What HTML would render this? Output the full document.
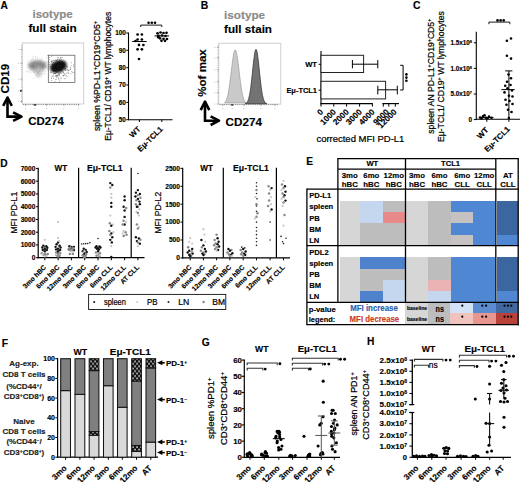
<!DOCTYPE html>
<html><head><meta charset="utf-8"><style>
html,body{margin:0;padding:0;background:#fff;}
svg{display:block;font-family:"Liberation Sans", sans-serif;}
</style></head><body>
<svg width="520" height="482" viewBox="0 0 520 482">
<rect width="520" height="482" fill="#fff"/>
<text x="0.6" y="8.6" font-size="10.2" font-weight="bold" text-anchor="start" fill="#000" stroke="#000" stroke-width="0.15">A</text>
<text x="52.6" y="18.2" font-size="11.2" font-weight="bold" text-anchor="middle" fill="#8a8a8a" textLength="40.2" lengthAdjust="spacingAndGlyphs" stroke="#8a8a8a" stroke-width="0.15">isotype</text>
<text x="52.6" y="32.4" font-size="11.2" font-weight="bold" text-anchor="middle" fill="#000" textLength="48.4" lengthAdjust="spacingAndGlyphs" stroke="#000" stroke-width="0.15">full stain</text>
<rect x="22.3" y="43.0" width="61.4" height="61.0" fill="#fff" stroke="#c4c4c4" stroke-width="0.8"/>
<line x1="20.3" y1="49.4" x2="22.3" y2="49.4" stroke="#777" stroke-width="0.6"/>
<circle cx="18.60" cy="49.40" r="0.45" fill="#999"/>
<line x1="20.3" y1="63.2" x2="22.3" y2="63.2" stroke="#777" stroke-width="0.6"/>
<circle cx="18.60" cy="63.20" r="0.45" fill="#999"/>
<line x1="20.3" y1="79.2" x2="22.3" y2="79.2" stroke="#777" stroke-width="0.6"/>
<circle cx="18.60" cy="79.20" r="0.45" fill="#999"/>
<line x1="20.3" y1="90.8" x2="22.3" y2="90.8" stroke="#777" stroke-width="0.6"/>
<circle cx="18.60" cy="90.80" r="0.45" fill="#999"/>
<line x1="20.3" y1="101.5" x2="22.3" y2="101.5" stroke="#777" stroke-width="0.6"/>
<circle cx="18.60" cy="101.50" r="0.45" fill="#999"/>
<line x1="25.5" y1="104.0" x2="25.5" y2="105.8" stroke="#777" stroke-width="0.6"/>
<circle cx="25.50" cy="108.60" r="0.5" fill="#aaa"/>
<line x1="35.0" y1="104.0" x2="35.0" y2="105.8" stroke="#777" stroke-width="0.6"/>
<circle cx="35.00" cy="108.60" r="0.5" fill="#aaa"/>
<line x1="46.5" y1="104.0" x2="46.5" y2="105.8" stroke="#777" stroke-width="0.6"/>
<circle cx="46.50" cy="108.60" r="0.5" fill="#aaa"/>
<line x1="63.9" y1="104.0" x2="63.9" y2="105.8" stroke="#777" stroke-width="0.6"/>
<circle cx="63.90" cy="108.60" r="0.5" fill="#aaa"/>
<line x1="78.5" y1="104.0" x2="78.5" y2="105.8" stroke="#777" stroke-width="0.6"/>
<circle cx="78.50" cy="108.60" r="0.5" fill="#aaa"/>
<rect x="20.2" y="89.8" width="1.4" height="2.2" fill="#222" stroke="none" stroke-width="1"/>
<line x1="23.0" y1="104.6" x2="80.0" y2="104.6" stroke="#777" stroke-width="0.8" stroke-dasharray="1.2,1"/>
<line x1="21.6" y1="45.0" x2="21.6" y2="103.0" stroke="#999" stroke-width="0.7" stroke-dasharray="1,1.2"/>
<rect x="33.6" y="104.2" width="2.6" height="1.3" fill="#222" stroke="none" stroke-width="1"/>
<defs><filter id="bl1" x="-50%" y="-50%" width="200%" height="200%"><feGaussianBlur stdDeviation="1.6"/></filter><filter id="bl2" x="-50%" y="-50%" width="200%" height="200%"><feGaussianBlur stdDeviation="0.9"/></filter><pattern id="chk" width="4" height="4.9" patternUnits="userSpaceOnUse"><rect width="4" height="4.9" fill="#111"/><rect x="0.3" y="0.4" width="1.5" height="1.6" fill="#e8e8e8"/><rect x="2.3" y="2.85" width="1.5" height="1.6" fill="#e8e8e8"/></pattern></defs>
<ellipse cx="37.4" cy="65.6" rx="9.3" ry="5.0" fill="#858585" filter="url(#bl1)"/>
<ellipse cx="38.6" cy="72.0" rx="3.6" ry="5.2" fill="#c4c4c4" filter="url(#bl1)"/>
<circle cx="38.47" cy="73.00" r="0.35" fill="#a0a0a0"/>
<circle cx="33.34" cy="71.76" r="0.35" fill="#a0a0a0"/>
<circle cx="36.70" cy="65.74" r="0.35" fill="#a0a0a0"/>
<circle cx="47.50" cy="67.76" r="0.35" fill="#a0a0a0"/>
<circle cx="37.79" cy="70.50" r="0.35" fill="#a0a0a0"/>
<circle cx="43.63" cy="66.85" r="0.35" fill="#a0a0a0"/>
<circle cx="40.94" cy="62.33" r="0.35" fill="#a0a0a0"/>
<circle cx="36.17" cy="64.90" r="0.35" fill="#a0a0a0"/>
<circle cx="31.34" cy="59.76" r="0.35" fill="#a0a0a0"/>
<circle cx="29.87" cy="65.85" r="0.35" fill="#a0a0a0"/>
<circle cx="37.14" cy="65.46" r="0.35" fill="#a0a0a0"/>
<circle cx="38.35" cy="60.59" r="0.35" fill="#a0a0a0"/>
<circle cx="37.60" cy="68.14" r="0.35" fill="#a0a0a0"/>
<circle cx="41.76" cy="62.94" r="0.35" fill="#a0a0a0"/>
<circle cx="36.00" cy="57.33" r="0.35" fill="#a0a0a0"/>
<circle cx="35.48" cy="56.46" r="0.35" fill="#a0a0a0"/>
<circle cx="30.90" cy="72.29" r="0.35" fill="#a0a0a0"/>
<circle cx="26.99" cy="70.83" r="0.35" fill="#a0a0a0"/>
<circle cx="39.64" cy="65.50" r="0.35" fill="#a0a0a0"/>
<circle cx="40.30" cy="69.53" r="0.35" fill="#a0a0a0"/>
<circle cx="43.23" cy="65.89" r="0.35" fill="#a0a0a0"/>
<circle cx="35.04" cy="64.10" r="0.35" fill="#a0a0a0"/>
<circle cx="33.07" cy="66.78" r="0.35" fill="#a0a0a0"/>
<circle cx="34.07" cy="72.13" r="0.35" fill="#a0a0a0"/>
<circle cx="28.65" cy="61.75" r="0.35" fill="#a0a0a0"/>
<circle cx="33.23" cy="56.95" r="0.35" fill="#a0a0a0"/>
<circle cx="47.51" cy="55.44" r="0.35" fill="#a0a0a0"/>
<circle cx="36.58" cy="64.48" r="0.35" fill="#a0a0a0"/>
<circle cx="46.28" cy="57.47" r="0.35" fill="#a0a0a0"/>
<circle cx="43.36" cy="63.49" r="0.35" fill="#a0a0a0"/>
<circle cx="37.22" cy="63.78" r="0.35" fill="#a0a0a0"/>
<circle cx="41.20" cy="61.54" r="0.35" fill="#a0a0a0"/>
<circle cx="37.61" cy="68.70" r="0.35" fill="#a0a0a0"/>
<circle cx="47.20" cy="55.45" r="0.35" fill="#a0a0a0"/>
<circle cx="45.63" cy="71.55" r="0.35" fill="#a0a0a0"/>
<circle cx="35.58" cy="68.46" r="0.35" fill="#a0a0a0"/>
<circle cx="35.67" cy="74.90" r="0.35" fill="#a0a0a0"/>
<circle cx="39.05" cy="65.97" r="0.35" fill="#a0a0a0"/>
<circle cx="36.86" cy="66.04" r="0.35" fill="#a0a0a0"/>
<circle cx="37.12" cy="62.78" r="0.35" fill="#a0a0a0"/>
<circle cx="37.27" cy="68.79" r="0.35" fill="#a0a0a0"/>
<circle cx="36.98" cy="66.29" r="0.35" fill="#a0a0a0"/>
<circle cx="39.66" cy="71.65" r="0.35" fill="#a0a0a0"/>
<circle cx="35.76" cy="65.21" r="0.35" fill="#a0a0a0"/>
<circle cx="47.70" cy="69.54" r="0.35" fill="#a0a0a0"/>
<circle cx="33.07" cy="78.15" r="0.35" fill="#a0a0a0"/>
<circle cx="41.88" cy="64.17" r="0.35" fill="#a0a0a0"/>
<circle cx="32.13" cy="68.43" r="0.35" fill="#a0a0a0"/>
<circle cx="33.84" cy="61.92" r="0.35" fill="#a0a0a0"/>
<circle cx="31.52" cy="64.57" r="0.35" fill="#a0a0a0"/>
<circle cx="43.54" cy="64.92" r="0.35" fill="#a0a0a0"/>
<circle cx="30.75" cy="70.21" r="0.35" fill="#a0a0a0"/>
<circle cx="38.33" cy="71.05" r="0.35" fill="#a0a0a0"/>
<circle cx="44.01" cy="66.19" r="0.35" fill="#a0a0a0"/>
<circle cx="37.28" cy="66.78" r="0.35" fill="#a0a0a0"/>
<circle cx="32.33" cy="70.21" r="0.35" fill="#a0a0a0"/>
<circle cx="44.86" cy="67.83" r="0.35" fill="#a0a0a0"/>
<circle cx="36.81" cy="65.75" r="0.35" fill="#a0a0a0"/>
<circle cx="34.10" cy="63.14" r="0.35" fill="#a0a0a0"/>
<circle cx="36.00" cy="62.96" r="0.35" fill="#a0a0a0"/>
<circle cx="35.81" cy="59.43" r="0.35" fill="#a0a0a0"/>
<circle cx="39.75" cy="67.24" r="0.35" fill="#a0a0a0"/>
<circle cx="32.24" cy="55.97" r="0.35" fill="#a0a0a0"/>
<circle cx="37.96" cy="72.30" r="0.35" fill="#a0a0a0"/>
<circle cx="34.33" cy="64.68" r="0.35" fill="#a0a0a0"/>
<circle cx="35.16" cy="70.14" r="0.35" fill="#a0a0a0"/>
<circle cx="33.42" cy="71.73" r="0.35" fill="#a0a0a0"/>
<circle cx="36.48" cy="71.44" r="0.35" fill="#a0a0a0"/>
<circle cx="38.16" cy="65.89" r="0.35" fill="#a0a0a0"/>
<circle cx="30.61" cy="63.70" r="0.35" fill="#a0a0a0"/>
<circle cx="36.69" cy="70.17" r="0.35" fill="#a0a0a0"/>
<circle cx="39.22" cy="63.66" r="0.35" fill="#a0a0a0"/>
<circle cx="40.05" cy="71.74" r="0.35" fill="#a0a0a0"/>
<circle cx="37.26" cy="64.89" r="0.35" fill="#a0a0a0"/>
<circle cx="36.03" cy="70.89" r="0.35" fill="#a0a0a0"/>
<circle cx="40.69" cy="62.54" r="0.35" fill="#a0a0a0"/>
<circle cx="39.87" cy="64.70" r="0.35" fill="#a0a0a0"/>
<circle cx="34.24" cy="72.95" r="0.35" fill="#a0a0a0"/>
<circle cx="42.11" cy="63.52" r="0.35" fill="#a0a0a0"/>
<circle cx="38.40" cy="69.41" r="0.35" fill="#a0a0a0"/>
<circle cx="34.80" cy="66.42" r="0.35" fill="#a0a0a0"/>
<circle cx="41.33" cy="58.41" r="0.35" fill="#a0a0a0"/>
<circle cx="39.64" cy="70.55" r="0.35" fill="#a0a0a0"/>
<circle cx="40.52" cy="60.56" r="0.35" fill="#a0a0a0"/>
<circle cx="39.59" cy="62.86" r="0.35" fill="#a0a0a0"/>
<circle cx="40.85" cy="69.90" r="0.35" fill="#a0a0a0"/>
<circle cx="39.08" cy="63.33" r="0.35" fill="#a0a0a0"/>
<circle cx="35.04" cy="71.10" r="0.35" fill="#a0a0a0"/>
<circle cx="33.51" cy="69.38" r="0.35" fill="#a0a0a0"/>
<circle cx="40.56" cy="65.66" r="0.35" fill="#a0a0a0"/>
<circle cx="26.78" cy="71.71" r="0.35" fill="#a0a0a0"/>
<circle cx="41.18" cy="65.50" r="0.35" fill="#a0a0a0"/>
<circle cx="37.73" cy="57.87" r="0.35" fill="#a0a0a0"/>
<circle cx="34.85" cy="62.04" r="0.35" fill="#a0a0a0"/>
<circle cx="36.89" cy="71.25" r="0.35" fill="#a0a0a0"/>
<circle cx="38.26" cy="68.78" r="0.35" fill="#a0a0a0"/>
<circle cx="34.51" cy="64.91" r="0.35" fill="#a0a0a0"/>
<circle cx="38.56" cy="65.65" r="0.35" fill="#a0a0a0"/>
<circle cx="44.32" cy="62.80" r="0.35" fill="#a0a0a0"/>
<circle cx="47.45" cy="62.29" r="0.35" fill="#a0a0a0"/>
<circle cx="43.30" cy="63.29" r="0.35" fill="#a0a0a0"/>
<circle cx="46.24" cy="67.65" r="0.35" fill="#a0a0a0"/>
<circle cx="39.99" cy="70.57" r="0.35" fill="#a0a0a0"/>
<circle cx="34.83" cy="62.00" r="0.35" fill="#a0a0a0"/>
<circle cx="27.87" cy="72.86" r="0.35" fill="#a0a0a0"/>
<circle cx="34.52" cy="64.16" r="0.35" fill="#a0a0a0"/>
<circle cx="37.85" cy="76.55" r="0.35" fill="#a0a0a0"/>
<circle cx="29.36" cy="68.20" r="0.35" fill="#a0a0a0"/>
<circle cx="36.02" cy="69.55" r="0.35" fill="#a0a0a0"/>
<circle cx="29.01" cy="65.09" r="0.35" fill="#a0a0a0"/>
<circle cx="42.20" cy="74.48" r="0.35" fill="#a0a0a0"/>
<circle cx="45.98" cy="62.90" r="0.35" fill="#a0a0a0"/>
<circle cx="38.27" cy="66.47" r="0.35" fill="#a0a0a0"/>
<circle cx="31.12" cy="60.09" r="0.35" fill="#a0a0a0"/>
<circle cx="41.78" cy="68.18" r="0.35" fill="#a0a0a0"/>
<circle cx="37.29" cy="72.84" r="0.35" fill="#a0a0a0"/>
<circle cx="32.99" cy="69.53" r="0.35" fill="#a0a0a0"/>
<circle cx="38.05" cy="66.72" r="0.35" fill="#a0a0a0"/>
<circle cx="40.45" cy="67.84" r="0.35" fill="#a0a0a0"/>
<circle cx="39.33" cy="68.27" r="0.35" fill="#a0a0a0"/>
<circle cx="47.69" cy="65.51" r="0.35" fill="#a0a0a0"/>
<circle cx="43.06" cy="69.92" r="0.35" fill="#a0a0a0"/>
<circle cx="36.25" cy="70.82" r="0.35" fill="#a0a0a0"/>
<circle cx="33.71" cy="72.57" r="0.35" fill="#a0a0a0"/>
<circle cx="33.95" cy="64.65" r="0.35" fill="#a0a0a0"/>
<circle cx="39.62" cy="71.00" r="0.35" fill="#a0a0a0"/>
<circle cx="42.54" cy="71.29" r="0.35" fill="#a0a0a0"/>
<circle cx="36.96" cy="62.41" r="0.35" fill="#a0a0a0"/>
<circle cx="40.75" cy="68.45" r="0.35" fill="#a0a0a0"/>
<circle cx="33.24" cy="71.67" r="0.35" fill="#a0a0a0"/>
<circle cx="39.00" cy="62.40" r="0.35" fill="#a0a0a0"/>
<circle cx="40.21" cy="60.64" r="0.35" fill="#a0a0a0"/>
<circle cx="33.61" cy="68.93" r="0.35" fill="#a0a0a0"/>
<circle cx="30.21" cy="67.18" r="0.35" fill="#a0a0a0"/>
<circle cx="31.24" cy="70.54" r="0.35" fill="#a0a0a0"/>
<circle cx="34.36" cy="67.88" r="0.35" fill="#a0a0a0"/>
<circle cx="30.49" cy="65.35" r="0.35" fill="#a0a0a0"/>
<circle cx="42.74" cy="69.19" r="0.35" fill="#a0a0a0"/>
<circle cx="28.81" cy="71.44" r="0.35" fill="#a0a0a0"/>
<circle cx="42.46" cy="65.19" r="0.35" fill="#a0a0a0"/>
<circle cx="45.09" cy="61.92" r="0.35" fill="#a0a0a0"/>
<circle cx="37.57" cy="72.35" r="0.35" fill="#a0a0a0"/>
<circle cx="44.55" cy="73.14" r="0.35" fill="#a0a0a0"/>
<circle cx="32.53" cy="58.45" r="0.35" fill="#a0a0a0"/>
<circle cx="39.96" cy="60.13" r="0.35" fill="#a0a0a0"/>
<circle cx="37.34" cy="60.85" r="0.35" fill="#a0a0a0"/>
<circle cx="43.31" cy="70.86" r="0.35" fill="#a0a0a0"/>
<circle cx="40.78" cy="67.08" r="0.35" fill="#a0a0a0"/>
<circle cx="38.23" cy="65.57" r="0.35" fill="#a0a0a0"/>
<circle cx="39.92" cy="68.20" r="0.35" fill="#a0a0a0"/>
<circle cx="40.30" cy="64.94" r="0.35" fill="#a0a0a0"/>
<circle cx="47.49" cy="68.35" r="0.35" fill="#a0a0a0"/>
<circle cx="44.97" cy="73.39" r="0.35" fill="#a0a0a0"/>
<circle cx="33.60" cy="58.90" r="0.35" fill="#a0a0a0"/>
<circle cx="44.29" cy="65.14" r="0.35" fill="#a0a0a0"/>
<circle cx="38.41" cy="65.76" r="0.35" fill="#a0a0a0"/>
<ellipse cx="58.4" cy="66.4" rx="8.6" ry="5.9" transform="rotate(-22 58.4 66.4)" fill="#0d0d0d" filter="url(#bl2)"/>
<circle cx="51.43" cy="62.11" r="0.38" fill="#222"/>
<circle cx="65.11" cy="70.22" r="0.38" fill="#222"/>
<circle cx="66.64" cy="65.97" r="0.38" fill="#222"/>
<circle cx="60.89" cy="67.28" r="0.38" fill="#222"/>
<circle cx="54.07" cy="69.87" r="0.38" fill="#222"/>
<circle cx="50.96" cy="66.87" r="0.38" fill="#222"/>
<circle cx="62.68" cy="69.35" r="0.38" fill="#222"/>
<circle cx="58.85" cy="65.48" r="0.38" fill="#222"/>
<circle cx="59.46" cy="65.86" r="0.38" fill="#222"/>
<circle cx="56.19" cy="66.90" r="0.38" fill="#222"/>
<circle cx="70.65" cy="69.14" r="0.38" fill="#222"/>
<circle cx="59.55" cy="73.05" r="0.38" fill="#222"/>
<circle cx="70.60" cy="67.66" r="0.38" fill="#222"/>
<circle cx="49.74" cy="66.80" r="0.38" fill="#222"/>
<circle cx="62.47" cy="65.87" r="0.38" fill="#222"/>
<circle cx="56.18" cy="71.77" r="0.38" fill="#222"/>
<circle cx="59.84" cy="70.75" r="0.38" fill="#222"/>
<circle cx="55.91" cy="76.74" r="0.38" fill="#222"/>
<circle cx="67.53" cy="69.19" r="0.38" fill="#222"/>
<circle cx="55.79" cy="73.40" r="0.38" fill="#222"/>
<circle cx="61.37" cy="62.76" r="0.38" fill="#222"/>
<circle cx="55.74" cy="75.29" r="0.38" fill="#222"/>
<circle cx="57.92" cy="67.03" r="0.38" fill="#222"/>
<circle cx="59.77" cy="68.80" r="0.38" fill="#222"/>
<circle cx="58.49" cy="57.42" r="0.38" fill="#222"/>
<circle cx="69.00" cy="70.20" r="0.38" fill="#222"/>
<circle cx="53.24" cy="74.88" r="0.38" fill="#222"/>
<circle cx="60.35" cy="69.11" r="0.38" fill="#222"/>
<circle cx="61.82" cy="78.51" r="0.38" fill="#222"/>
<circle cx="71.44" cy="62.87" r="0.38" fill="#222"/>
<circle cx="55.36" cy="73.66" r="0.38" fill="#222"/>
<circle cx="66.26" cy="75.26" r="0.38" fill="#222"/>
<circle cx="61.98" cy="57.63" r="0.38" fill="#222"/>
<circle cx="72.61" cy="72.31" r="0.38" fill="#222"/>
<circle cx="63.10" cy="71.97" r="0.38" fill="#222"/>
<circle cx="51.20" cy="80.51" r="0.38" fill="#222"/>
<circle cx="53.51" cy="67.55" r="0.38" fill="#222"/>
<circle cx="56.97" cy="72.43" r="0.38" fill="#222"/>
<circle cx="61.50" cy="70.61" r="0.38" fill="#222"/>
<circle cx="59.50" cy="70.61" r="0.38" fill="#222"/>
<circle cx="65.88" cy="68.38" r="0.38" fill="#222"/>
<circle cx="54.83" cy="71.46" r="0.38" fill="#222"/>
<circle cx="49.17" cy="62.75" r="0.38" fill="#222"/>
<circle cx="52.46" cy="70.73" r="0.38" fill="#222"/>
<circle cx="71.05" cy="73.58" r="0.38" fill="#222"/>
<circle cx="65.35" cy="70.43" r="0.38" fill="#222"/>
<circle cx="60.17" cy="66.30" r="0.38" fill="#222"/>
<circle cx="51.28" cy="61.28" r="0.38" fill="#222"/>
<circle cx="63.52" cy="72.98" r="0.38" fill="#222"/>
<circle cx="65.35" cy="78.34" r="0.38" fill="#222"/>
<circle cx="56.67" cy="75.33" r="0.38" fill="#222"/>
<circle cx="70.23" cy="68.95" r="0.38" fill="#222"/>
<circle cx="65.02" cy="68.01" r="0.38" fill="#222"/>
<circle cx="53.57" cy="69.65" r="0.38" fill="#222"/>
<circle cx="55.72" cy="70.92" r="0.38" fill="#222"/>
<circle cx="66.66" cy="66.90" r="0.38" fill="#222"/>
<circle cx="53.05" cy="69.02" r="0.38" fill="#222"/>
<circle cx="62.55" cy="71.54" r="0.38" fill="#222"/>
<circle cx="60.91" cy="57.18" r="0.38" fill="#222"/>
<circle cx="51.72" cy="77.06" r="0.38" fill="#222"/>
<circle cx="59.94" cy="59.87" r="0.38" fill="#222"/>
<circle cx="53.29" cy="60.31" r="0.38" fill="#222"/>
<circle cx="52.37" cy="76.09" r="0.38" fill="#222"/>
<circle cx="57.17" cy="75.79" r="0.38" fill="#222"/>
<circle cx="59.64" cy="59.88" r="0.38" fill="#222"/>
<circle cx="53.84" cy="62.61" r="0.38" fill="#222"/>
<circle cx="66.03" cy="69.55" r="0.38" fill="#222"/>
<circle cx="58.46" cy="77.95" r="0.38" fill="#222"/>
<circle cx="52.06" cy="60.43" r="0.38" fill="#222"/>
<circle cx="53.52" cy="76.04" r="0.38" fill="#222"/>
<circle cx="57.64" cy="57.77" r="0.38" fill="#222"/>
<circle cx="51.71" cy="78.34" r="0.38" fill="#222"/>
<circle cx="64.77" cy="62.32" r="0.38" fill="#222"/>
<circle cx="73.36" cy="66.75" r="0.38" fill="#222"/>
<circle cx="51.18" cy="68.16" r="0.38" fill="#222"/>
<circle cx="64.24" cy="78.87" r="0.38" fill="#222"/>
<circle cx="64.81" cy="66.38" r="0.38" fill="#222"/>
<circle cx="55.06" cy="60.07" r="0.38" fill="#222"/>
<circle cx="58.05" cy="65.34" r="0.38" fill="#222"/>
<circle cx="60.00" cy="61.23" r="0.38" fill="#222"/>
<circle cx="55.33" cy="63.59" r="0.38" fill="#222"/>
<circle cx="51.12" cy="61.73" r="0.38" fill="#222"/>
<circle cx="52.25" cy="61.74" r="0.38" fill="#222"/>
<circle cx="61.99" cy="69.61" r="0.38" fill="#222"/>
<circle cx="50.39" cy="72.15" r="0.38" fill="#222"/>
<circle cx="60.27" cy="77.96" r="0.38" fill="#222"/>
<circle cx="57.31" cy="67.71" r="0.38" fill="#222"/>
<circle cx="54.27" cy="69.76" r="0.38" fill="#222"/>
<circle cx="61.53" cy="70.07" r="0.38" fill="#222"/>
<circle cx="56.94" cy="72.46" r="0.38" fill="#222"/>
<circle cx="59.06" cy="70.52" r="0.38" fill="#222"/>
<circle cx="52.77" cy="70.27" r="0.38" fill="#222"/>
<circle cx="52.38" cy="63.82" r="0.38" fill="#222"/>
<circle cx="59.49" cy="81.93" r="0.38" fill="#222"/>
<circle cx="64.62" cy="69.03" r="0.38" fill="#222"/>
<circle cx="57.40" cy="75.07" r="0.38" fill="#222"/>
<circle cx="66.99" cy="76.49" r="0.38" fill="#222"/>
<circle cx="57.36" cy="70.16" r="0.38" fill="#222"/>
<circle cx="56.48" cy="67.25" r="0.38" fill="#222"/>
<circle cx="53.26" cy="67.47" r="0.38" fill="#222"/>
<circle cx="61.11" cy="63.32" r="0.38" fill="#222"/>
<circle cx="61.82" cy="61.06" r="0.38" fill="#222"/>
<circle cx="56.23" cy="71.43" r="0.38" fill="#222"/>
<circle cx="52.13" cy="64.62" r="0.38" fill="#222"/>
<circle cx="73.68" cy="64.82" r="0.38" fill="#222"/>
<circle cx="54.17" cy="65.48" r="0.38" fill="#222"/>
<circle cx="58.70" cy="68.84" r="0.38" fill="#222"/>
<circle cx="64.54" cy="73.86" r="0.38" fill="#222"/>
<circle cx="56.02" cy="66.81" r="0.38" fill="#222"/>
<circle cx="49.82" cy="59.82" r="0.38" fill="#222"/>
<circle cx="53.97" cy="73.49" r="0.38" fill="#222"/>
<circle cx="59.24" cy="73.93" r="0.38" fill="#222"/>
<circle cx="64.28" cy="67.99" r="0.38" fill="#222"/>
<circle cx="71.39" cy="65.79" r="0.38" fill="#222"/>
<circle cx="54.66" cy="66.36" r="0.38" fill="#222"/>
<circle cx="65.48" cy="68.16" r="0.38" fill="#222"/>
<circle cx="53.96" cy="71.66" r="0.38" fill="#222"/>
<circle cx="65.45" cy="68.31" r="0.38" fill="#222"/>
<circle cx="56.95" cy="75.65" r="0.38" fill="#222"/>
<circle cx="64.53" cy="74.80" r="0.38" fill="#222"/>
<circle cx="53.81" cy="70.74" r="0.38" fill="#222"/>
<circle cx="60.72" cy="57.99" r="0.38" fill="#222"/>
<circle cx="65.87" cy="69.61" r="0.38" fill="#222"/>
<circle cx="59.40" cy="64.58" r="0.38" fill="#222"/>
<circle cx="58.11" cy="72.46" r="0.38" fill="#222"/>
<circle cx="63.49" cy="68.65" r="0.38" fill="#222"/>
<circle cx="53.20" cy="64.73" r="0.38" fill="#222"/>
<circle cx="53.49" cy="62.55" r="0.38" fill="#222"/>
<circle cx="58.38" cy="65.99" r="0.38" fill="#222"/>
<circle cx="58.83" cy="63.94" r="0.38" fill="#222"/>
<circle cx="53.19" cy="67.87" r="0.38" fill="#222"/>
<circle cx="56.36" cy="76.05" r="0.38" fill="#222"/>
<circle cx="52.96" cy="70.26" r="0.38" fill="#222"/>
<circle cx="58.25" cy="60.98" r="0.38" fill="#222"/>
<circle cx="62.96" cy="70.04" r="0.38" fill="#222"/>
<circle cx="64.24" cy="64.12" r="0.38" fill="#222"/>
<circle cx="68.87" cy="69.95" r="0.38" fill="#222"/>
<circle cx="51.44" cy="72.45" r="0.38" fill="#222"/>
<circle cx="56.30" cy="60.80" r="0.38" fill="#222"/>
<circle cx="54.00" cy="72.94" r="0.38" fill="#222"/>
<circle cx="60.87" cy="65.82" r="0.38" fill="#222"/>
<circle cx="55.25" cy="79.82" r="0.38" fill="#222"/>
<circle cx="68.95" cy="73.60" r="0.38" fill="#222"/>
<circle cx="56.32" cy="62.99" r="0.38" fill="#222"/>
<circle cx="56.13" cy="79.18" r="0.38" fill="#222"/>
<circle cx="61.32" cy="67.23" r="0.38" fill="#222"/>
<circle cx="51.00" cy="70.02" r="0.38" fill="#222"/>
<circle cx="53.12" cy="69.08" r="0.38" fill="#222"/>
<circle cx="63.04" cy="75.55" r="0.38" fill="#222"/>
<circle cx="59.36" cy="66.91" r="0.38" fill="#222"/>
<circle cx="59.89" cy="80.02" r="0.38" fill="#222"/>
<circle cx="60.80" cy="60.45" r="0.38" fill="#222"/>
<circle cx="67.99" cy="70.54" r="0.38" fill="#222"/>
<circle cx="57.93" cy="67.19" r="0.38" fill="#222"/>
<circle cx="60.81" cy="65.47" r="0.38" fill="#222"/>
<circle cx="49.48" cy="57.26" r="0.38" fill="#222"/>
<circle cx="57.75" cy="65.86" r="0.38" fill="#222"/>
<circle cx="54.96" cy="81.94" r="0.38" fill="#222"/>
<circle cx="63.36" cy="75.66" r="0.38" fill="#222"/>
<circle cx="55.45" cy="70.83" r="0.38" fill="#222"/>
<circle cx="57.21" cy="67.75" r="0.38" fill="#222"/>
<circle cx="63.06" cy="72.68" r="0.38" fill="#222"/>
<circle cx="60.36" cy="69.90" r="0.38" fill="#222"/>
<circle cx="49.70" cy="64.50" r="0.38" fill="#222"/>
<circle cx="60.83" cy="66.77" r="0.38" fill="#222"/>
<circle cx="53.76" cy="71.17" r="0.38" fill="#222"/>
<circle cx="52.88" cy="64.90" r="0.38" fill="#222"/>
<circle cx="63.88" cy="66.81" r="0.38" fill="#222"/>
<circle cx="67.21" cy="72.18" r="0.38" fill="#222"/>
<circle cx="63.43" cy="75.89" r="0.38" fill="#222"/>
<circle cx="50.64" cy="66.17" r="0.38" fill="#222"/>
<circle cx="57.87" cy="76.57" r="0.38" fill="#222"/>
<circle cx="58.24" cy="79.00" r="0.38" fill="#222"/>
<circle cx="55.30" cy="68.66" r="0.38" fill="#222"/>
<circle cx="59.06" cy="74.75" r="0.38" fill="#222"/>
<circle cx="58.19" cy="65.24" r="0.38" fill="#222"/>
<circle cx="56.50" cy="60.48" r="0.38" fill="#222"/>
<circle cx="66.16" cy="73.55" r="0.38" fill="#222"/>
<circle cx="61.10" cy="70.68" r="0.38" fill="#222"/>
<circle cx="54.82" cy="66.53" r="0.38" fill="#222"/>
<circle cx="63.41" cy="64.20" r="0.38" fill="#222"/>
<circle cx="53.74" cy="78.59" r="0.38" fill="#222"/>
<circle cx="67.98" cy="70.77" r="0.38" fill="#222"/>
<circle cx="61.74" cy="70.13" r="0.38" fill="#222"/>
<circle cx="67.16" cy="66.31" r="0.38" fill="#222"/>
<circle cx="59.00" cy="71.94" r="0.38" fill="#222"/>
<circle cx="67.24" cy="67.49" r="0.38" fill="#222"/>
<circle cx="59.91" cy="66.03" r="0.38" fill="#222"/>
<circle cx="54.53" cy="65.04" r="0.38" fill="#222"/>
<circle cx="59.01" cy="74.38" r="0.38" fill="#222"/>
<circle cx="54.30" cy="65.36" r="0.38" fill="#222"/>
<circle cx="56.05" cy="71.14" r="0.38" fill="#222"/>
<circle cx="62.73" cy="61.43" r="0.38" fill="#222"/>
<circle cx="60.65" cy="62.98" r="0.38" fill="#222"/>
<circle cx="62.82" cy="63.18" r="0.38" fill="#222"/>
<circle cx="51.96" cy="64.70" r="0.38" fill="#222"/>
<circle cx="58.13" cy="62.99" r="0.38" fill="#222"/>
<circle cx="59.78" cy="69.89" r="0.38" fill="#222"/>
<circle cx="59.00" cy="70.63" r="0.38" fill="#222"/>
<circle cx="63.77" cy="64.60" r="0.38" fill="#222"/>
<circle cx="58.51" cy="68.82" r="0.38" fill="#222"/>
<circle cx="53.86" cy="64.67" r="0.38" fill="#222"/>
<circle cx="55.81" cy="69.59" r="0.38" fill="#222"/>
<circle cx="60.49" cy="71.92" r="0.38" fill="#222"/>
<circle cx="54.32" cy="73.20" r="0.38" fill="#222"/>
<circle cx="61.02" cy="66.65" r="0.38" fill="#222"/>
<circle cx="58.38" cy="73.84" r="0.38" fill="#222"/>
<circle cx="61.10" cy="73.19" r="0.38" fill="#222"/>
<circle cx="59.14" cy="75.85" r="0.38" fill="#222"/>
<circle cx="71.86" cy="71.73" r="0.38" fill="#222"/>
<circle cx="55.07" cy="60.70" r="0.38" fill="#222"/>
<circle cx="65.08" cy="75.02" r="0.38" fill="#222"/>
<circle cx="56.20" cy="77.69" r="0.38" fill="#222"/>
<circle cx="58.04" cy="65.45" r="0.38" fill="#222"/>
<circle cx="58.91" cy="70.28" r="0.38" fill="#222"/>
<circle cx="58.80" cy="71.40" r="0.38" fill="#222"/>
<circle cx="55.09" cy="72.91" r="0.38" fill="#222"/>
<circle cx="53.70" cy="69.98" r="0.38" fill="#222"/>
<circle cx="57.44" cy="59.51" r="0.38" fill="#222"/>
<circle cx="60.81" cy="72.81" r="0.38" fill="#222"/>
<circle cx="51.81" cy="56.42" r="0.38" fill="#222"/>
<circle cx="54.62" cy="63.95" r="0.38" fill="#222"/>
<circle cx="59.17" cy="68.90" r="0.38" fill="#222"/>
<circle cx="68.18" cy="72.89" r="0.38" fill="#222"/>
<circle cx="56.96" cy="69.97" r="0.38" fill="#222"/>
<circle cx="52.97" cy="68.34" r="0.38" fill="#222"/>
<circle cx="60.42" cy="70.28" r="0.38" fill="#222"/>
<circle cx="64.11" cy="64.86" r="0.38" fill="#222"/>
<circle cx="60.33" cy="68.22" r="0.38" fill="#222"/>
<circle cx="58.58" cy="70.93" r="0.38" fill="#222"/>
<circle cx="56.81" cy="70.27" r="0.38" fill="#222"/>
<circle cx="58.29" cy="75.13" r="0.38" fill="#222"/>
<circle cx="57.83" cy="70.83" r="0.38" fill="#222"/>
<circle cx="74.07" cy="72.75" r="0.38" fill="#222"/>
<rect x="48.3" y="55.2" width="26.6" height="27.3" fill="none" stroke="#505050" stroke-width="0.7"/>
<text transform="translate(9.2,78.6) rotate(-90)" font-size="11.4" font-weight="bold" text-anchor="middle" fill="#000" textLength="29.6" lengthAdjust="spacingAndGlyphs" stroke="#000" stroke-width="0.15">CD19</text>
<path d="M7.5,97.5 L7.5,116.6 L21.5,116.6" fill="none" stroke="#000" stroke-width="2.6" stroke-linejoin="miter"/>
<path d="M3.2,105.9 L7.5,97.5 L11.8,105.9" fill="none" stroke="#000" stroke-width="2.6" stroke-linejoin="round" stroke-linecap="butt"/>
<path d="M13.1,112.3 L21.5,116.6 L13.1,120.89999999999999" fill="none" stroke="#000" stroke-width="2.6" stroke-linejoin="round" stroke-linecap="butt"/>
<text x="28.3" y="125.4" font-size="11.0" font-weight="bold" text-anchor="start" fill="#000" textLength="35.6" lengthAdjust="spacingAndGlyphs" stroke="#000" stroke-width="0.15">CD274</text>
<line x1="128.5" y1="32.6" x2="128.5" y2="120.2" stroke="#000" stroke-width="1.1"/>
<line x1="128.0" y1="119.7" x2="172.5" y2="119.7" stroke="#000" stroke-width="1.1"/>
<line x1="126.3" y1="33.0" x2="128.5" y2="33.0" stroke="#000" stroke-width="1.0"/>
<text x="125.8" y="35.2" font-size="6.4" font-weight="bold" text-anchor="end" fill="#000" stroke="#000" stroke-width="0.15">100</text>
<line x1="126.3" y1="50.34" x2="128.5" y2="50.34" stroke="#000" stroke-width="1.0"/>
<text x="125.8" y="52.540000000000006" font-size="6.4" font-weight="bold" text-anchor="end" fill="#000" stroke="#000" stroke-width="0.15">90</text>
<line x1="126.3" y1="67.68" x2="128.5" y2="67.68" stroke="#000" stroke-width="1.0"/>
<text x="125.8" y="69.88000000000001" font-size="6.4" font-weight="bold" text-anchor="end" fill="#000" stroke="#000" stroke-width="0.15">80</text>
<line x1="126.3" y1="85.02000000000001" x2="128.5" y2="85.02000000000001" stroke="#000" stroke-width="1.0"/>
<text x="125.8" y="87.22000000000001" font-size="6.4" font-weight="bold" text-anchor="end" fill="#000" stroke="#000" stroke-width="0.15">70</text>
<line x1="126.3" y1="102.36" x2="128.5" y2="102.36" stroke="#000" stroke-width="1.0"/>
<text x="125.8" y="104.56" font-size="6.4" font-weight="bold" text-anchor="end" fill="#000" stroke="#000" stroke-width="0.15">60</text>
<line x1="126.3" y1="119.7" x2="128.5" y2="119.7" stroke="#000" stroke-width="1.0"/>
<text x="125.8" y="121.9" font-size="6.4" font-weight="bold" text-anchor="end" fill="#000" stroke="#000" stroke-width="0.15">50</text>
<line x1="139.4" y1="119.7" x2="139.4" y2="122.0" stroke="#000" stroke-width="1.0"/>
<line x1="161.8" y1="119.7" x2="161.8" y2="122.0" stroke="#000" stroke-width="1.0"/>
<circle cx="137.60" cy="34.50" r="1.35" fill="#000"/>
<circle cx="141.90" cy="34.50" r="1.35" fill="#000"/>
<circle cx="137.60" cy="39.50" r="1.35" fill="#000"/>
<circle cx="141.90" cy="39.50" r="1.35" fill="#000"/>
<circle cx="139.00" cy="44.90" r="1.35" fill="#000"/>
<circle cx="143.40" cy="45.00" r="1.35" fill="#000"/>
<circle cx="137.60" cy="49.30" r="1.35" fill="#000"/>
<circle cx="141.90" cy="49.30" r="1.35" fill="#000"/>
<circle cx="139.00" cy="59.00" r="1.35" fill="#000"/>
<circle cx="135.50" cy="41.00" r="1.35" fill="#000"/>
<line x1="132.2" y1="41.5" x2="146.6" y2="41.5" stroke="#000" stroke-width="1.0"/>
<circle cx="157.50" cy="33.30" r="1.35" fill="#000"/>
<circle cx="160.50" cy="32.50" r="1.35" fill="#000"/>
<circle cx="163.50" cy="33.00" r="1.35" fill="#000"/>
<circle cx="166.50" cy="32.80" r="1.35" fill="#000"/>
<circle cx="158.50" cy="35.80" r="1.35" fill="#000"/>
<circle cx="162.00" cy="35.50" r="1.35" fill="#000"/>
<circle cx="165.50" cy="36.00" r="1.35" fill="#000"/>
<circle cx="160.00" cy="38.30" r="1.35" fill="#000"/>
<circle cx="163.50" cy="38.80" r="1.35" fill="#000"/>
<circle cx="167.00" cy="39.00" r="1.35" fill="#000"/>
<circle cx="161.50" cy="40.80" r="1.35" fill="#000"/>
<circle cx="165.00" cy="40.80" r="1.35" fill="#000"/>
<circle cx="158.20" cy="37.20" r="1.35" fill="#000"/>
<line x1="154.5" y1="35.9" x2="169.0" y2="35.9" stroke="#000" stroke-width="1.0"/>
<path d="M140.7,27.0 L140.7,25.1 L161.8,25.1 L161.8,27.0" fill="none" stroke="#000" stroke-width="0.9"/>
<circle cx="148.60" cy="22.80" r="1.3" fill="#000"/>
<circle cx="151.80" cy="22.80" r="1.3" fill="#000"/>
<circle cx="155.00" cy="22.80" r="1.3" fill="#000"/>
<text transform="translate(141.0,129.6) rotate(-45)" font-size="7.8" font-weight="bold" text-anchor="end" fill="#000" stroke="#000" stroke-width="0.15">WT</text>
<text transform="translate(163.2,129.6) rotate(-45)" font-size="7.8" font-weight="bold" text-anchor="end" fill="#000" stroke="#000" stroke-width="0.15">E&#956;-TCL1</text>
<text transform="translate(100.4,76.0) rotate(-90)" font-size="8.8" font-weight="normal" text-anchor="middle" fill="#000" textLength="110" lengthAdjust="spacingAndGlyphs" stroke="#000" stroke-width="0.22">spleen %PD-L1<tspan baseline-shift="super" font-size="62%">+</tspan>CD19<tspan baseline-shift="super" font-size="62%">+</tspan>CD5<tspan baseline-shift="super" font-size="62%">+</tspan></text>
<text transform="translate(111.2,76.3) rotate(-90)" font-size="8.5" font-weight="normal" text-anchor="middle" fill="#000" textLength="129.0" lengthAdjust="spacingAndGlyphs" stroke="#000" stroke-width="0.22">E&#956;-TCL1/ CD19<tspan baseline-shift="super" font-size="62%">+</tspan> WT lymphocytes</text>
<text x="200.8" y="8.7" font-size="10.4" font-weight="bold" text-anchor="start" fill="#000" stroke="#000" stroke-width="0.15">B</text>
<text x="224.1" y="18.6" font-size="11.2" font-weight="bold" text-anchor="start" fill="#8a8a8a" textLength="41.0" lengthAdjust="spacingAndGlyphs" stroke="#8a8a8a" stroke-width="0.15">isotype</text>
<text x="224.1" y="32.8" font-size="11.2" font-weight="bold" text-anchor="start" fill="#000" textLength="47.9" lengthAdjust="spacingAndGlyphs" stroke="#000" stroke-width="0.15">full stain</text>
<rect x="218.8" y="43.2" width="62.0" height="60.9" fill="#fff" stroke="#c4c4c4" stroke-width="0.8"/>
<line x1="216.8" y1="47.3" x2="218.8" y2="47.3" stroke="#777" stroke-width="0.6"/>
<circle cx="214.80" cy="47.30" r="0.5" fill="#aaa"/>
<line x1="216.8" y1="57.9" x2="218.8" y2="57.9" stroke="#777" stroke-width="0.6"/>
<circle cx="214.80" cy="57.90" r="0.5" fill="#aaa"/>
<line x1="216.8" y1="69.9" x2="218.8" y2="69.9" stroke="#777" stroke-width="0.6"/>
<circle cx="214.80" cy="69.90" r="0.5" fill="#aaa"/>
<line x1="216.8" y1="81.9" x2="218.8" y2="81.9" stroke="#777" stroke-width="0.6"/>
<circle cx="214.80" cy="81.90" r="0.5" fill="#aaa"/>
<line x1="216.8" y1="92.8" x2="218.8" y2="92.8" stroke="#777" stroke-width="0.6"/>
<circle cx="214.80" cy="92.80" r="0.5" fill="#aaa"/>
<line x1="216.8" y1="104.0" x2="218.8" y2="104.0" stroke="#777" stroke-width="0.6"/>
<circle cx="214.80" cy="104.00" r="0.5" fill="#aaa"/>
<line x1="222.9" y1="104.1" x2="222.9" y2="105.9" stroke="#777" stroke-width="0.6"/>
<circle cx="222.90" cy="108.50" r="0.5" fill="#aaa"/>
<line x1="232.2" y1="104.1" x2="232.2" y2="105.9" stroke="#777" stroke-width="0.6"/>
<circle cx="232.20" cy="108.50" r="0.5" fill="#aaa"/>
<line x1="243.9" y1="104.1" x2="243.9" y2="105.9" stroke="#777" stroke-width="0.6"/>
<circle cx="243.90" cy="108.50" r="0.5" fill="#aaa"/>
<line x1="261.0" y1="104.1" x2="261.0" y2="105.9" stroke="#777" stroke-width="0.6"/>
<circle cx="261.00" cy="108.50" r="0.5" fill="#aaa"/>
<line x1="275.0" y1="104.1" x2="275.0" y2="105.9" stroke="#777" stroke-width="0.6"/>
<circle cx="275.00" cy="108.50" r="0.5" fill="#aaa"/>
<rect x="230.8" y="104.2" width="2.6" height="1.3" fill="#222" stroke="none" stroke-width="1"/>
<line x1="219.5" y1="104.6" x2="278.0" y2="104.6" stroke="#777" stroke-width="0.8" stroke-dasharray="1.2,1"/>
<line x1="218.0" y1="45.0" x2="218.0" y2="103.0" stroke="#999" stroke-width="0.7" stroke-dasharray="1,1.2"/>
<path d="M224.50,102.75 L224.86,102.39 L225.22,101.96 L225.57,101.43 L225.93,100.79 L226.29,100.02 L226.65,99.12 L227.01,98.05 L227.37,96.82 L227.72,95.40 L228.08,93.78 L228.44,91.97 L228.80,89.95 L229.16,87.73 L229.52,85.33 L229.88,82.74 L230.23,80.00 L230.59,77.13 L230.95,74.18 L231.31,71.18 L231.67,68.18 L232.03,65.23 L232.38,62.40 L232.74,59.73 L233.10,57.29 L233.46,55.12 L233.82,53.29 L234.18,51.83 L234.53,50.78 L234.89,50.17 L235.25,50.00 L235.61,50.30 L235.97,51.03 L236.32,52.20 L236.68,53.77 L237.04,55.70 L237.40,57.94 L237.76,60.45 L238.12,63.17 L238.47,66.05 L238.83,69.01 L239.19,72.02 L239.55,75.01 L239.91,77.94 L240.27,80.78 L240.62,83.48 L240.98,86.02 L241.34,88.37 L241.70,90.53 L242.06,92.50 L242.42,94.25 L242.78,95.81 L243.13,97.18 L243.49,98.37 L243.85,99.38 L244.21,100.25 L244.57,100.98 L244.93,101.59 L245.28,102.09 L245.64,102.50 L246.00,102.83 Z" fill="#c9c9c9" stroke="#9a9a9a" stroke-width="0.7"/>
<path d="M245.00,103.71 L245.37,103.59 L245.73,103.43 L246.10,103.21 L246.47,102.93 L246.83,102.56 L247.20,102.08 L247.57,101.48 L247.93,100.72 L248.30,99.79 L248.67,98.66 L249.03,97.30 L249.40,95.69 L249.77,93.81 L250.13,91.66 L250.50,89.22 L250.87,86.50 L251.23,83.53 L251.60,80.32 L251.97,76.94 L252.33,73.42 L252.70,69.85 L253.07,66.30 L253.43,62.86 L253.80,59.63 L254.17,56.70 L254.53,54.16 L254.90,52.09 L255.27,50.56 L255.63,49.62 L256.00,49.30 L256.37,49.62 L256.73,50.56 L257.10,52.09 L257.47,54.16 L257.83,56.70 L258.20,59.63 L258.57,62.86 L258.93,66.30 L259.30,69.85 L259.67,73.42 L260.03,76.94 L260.40,80.32 L260.77,83.53 L261.13,86.50 L261.50,89.22 L261.87,91.66 L262.23,93.81 L262.60,95.69 L262.97,97.30 L263.33,98.66 L263.70,99.79 L264.07,100.72 L264.43,101.48 L264.80,102.08 L265.17,102.56 L265.53,102.93 L265.90,103.21 L266.27,103.43 L266.63,103.59 L267.00,103.71 Z" fill="#737373" stroke="#2a2a2a" stroke-width="0.7"/>
<text transform="translate(206.3,73.0) rotate(-90)" font-size="11.4" font-weight="bold" text-anchor="middle" fill="#000" textLength="47.6" lengthAdjust="spacingAndGlyphs" stroke="#000" stroke-width="0.15">%of max</text>
<path d="M205.0,101.7 L205.0,120.7 L219.0,120.7" fill="none" stroke="#000" stroke-width="2.6" stroke-linejoin="miter"/>
<path d="M200.7,110.10000000000001 L205.0,101.7 L209.3,110.10000000000001" fill="none" stroke="#000" stroke-width="2.6" stroke-linejoin="round" stroke-linecap="butt"/>
<path d="M210.6,116.4 L219.0,120.7 L210.6,125.0" fill="none" stroke="#000" stroke-width="2.6" stroke-linejoin="round" stroke-linecap="butt"/>
<text x="225.6" y="125.8" font-size="11.0" font-weight="bold" text-anchor="start" fill="#000" textLength="36.3" lengthAdjust="spacingAndGlyphs" stroke="#000" stroke-width="0.15">CD274</text>
<line x1="321.0" y1="51.0" x2="321.0" y2="104.2" stroke="#000" stroke-width="1.1"/>
<rect x="321.0" y="55.3" width="42.6" height="17.2" fill="#fff" stroke="#222" stroke-width="1.0"/>
<rect x="321.0" y="81.3" width="64.6" height="17.6" fill="#fff" stroke="#222" stroke-width="1.0"/>
<line x1="318.6" y1="64.3" x2="321.0" y2="64.3" stroke="#000" stroke-width="1.0"/>
<line x1="318.6" y1="90.2" x2="321.0" y2="90.2" stroke="#000" stroke-width="1.0"/>
<line x1="352.4" y1="64.2" x2="377.8" y2="64.2" stroke="#000" stroke-width="1.0"/>
<line x1="352.4" y1="60.0" x2="352.4" y2="68.3" stroke="#000" stroke-width="1.0"/>
<line x1="377.8" y1="60.0" x2="377.8" y2="68.3" stroke="#000" stroke-width="1.0"/>
<line x1="377.8" y1="89.8" x2="397.3" y2="89.8" stroke="#000" stroke-width="1.0"/>
<line x1="377.8" y1="85.7" x2="377.8" y2="94.4" stroke="#000" stroke-width="1.0"/>
<line x1="397.3" y1="85.7" x2="397.3" y2="94.4" stroke="#000" stroke-width="1.0"/>
<line x1="320.5" y1="103.6" x2="372.8" y2="103.6" stroke="#000" stroke-width="1.2"/>
<line x1="382.3" y1="103.6" x2="399.0" y2="103.6" stroke="#000" stroke-width="1.2"/>
<line x1="321.0" y1="103.6" x2="321.0" y2="106.6" stroke="#000" stroke-width="1.0"/>
<line x1="333.8" y1="103.6" x2="333.8" y2="106.6" stroke="#000" stroke-width="1.0"/>
<line x1="346.6" y1="103.6" x2="346.6" y2="106.6" stroke="#000" stroke-width="1.0"/>
<line x1="359.6" y1="103.6" x2="359.6" y2="106.6" stroke="#000" stroke-width="1.0"/>
<line x1="372.4" y1="103.6" x2="372.4" y2="106.6" stroke="#000" stroke-width="1.0"/>
<line x1="383.3" y1="103.6" x2="383.3" y2="106.6" stroke="#000" stroke-width="1.0"/>
<line x1="388.8" y1="103.6" x2="388.8" y2="106.6" stroke="#000" stroke-width="1.0"/>
<line x1="395.3" y1="103.6" x2="395.3" y2="106.6" stroke="#000" stroke-width="1.0"/>
<text x="317.0" y="67.0" font-size="7.5" font-weight="bold" text-anchor="end" fill="#000" textLength="11.8" lengthAdjust="spacingAndGlyphs" stroke="#000" stroke-width="0.15">WT</text>
<text x="317.0" y="93.3" font-size="7.5" font-weight="bold" text-anchor="end" fill="#000" textLength="30.6" lengthAdjust="spacingAndGlyphs" stroke="#000" stroke-width="0.15">E&#956;-TCL1</text>
<path d="M400.2,65.3 L403.1,65.3 L403.1,90.0 L400.2,90.0" fill="none" stroke="#000" stroke-width="1.0"/>
<circle cx="406.40" cy="74.40" r="1.3" fill="#000"/>
<circle cx="406.40" cy="77.60" r="1.3" fill="#000"/>
<circle cx="406.40" cy="80.80" r="1.3" fill="#000"/>
<text transform="translate(323.8,112.4) rotate(-45)" font-size="8.3" font-weight="bold" text-anchor="end" fill="#000" stroke="#000" stroke-width="0.15">0</text>
<text transform="translate(336.6,112.4) rotate(-45)" font-size="8.3" font-weight="bold" text-anchor="end" fill="#000" stroke="#000" stroke-width="0.15">1000</text>
<text transform="translate(349.4,112.4) rotate(-45)" font-size="8.3" font-weight="bold" text-anchor="end" fill="#000" stroke="#000" stroke-width="0.15">2000</text>
<text transform="translate(362.4,112.4) rotate(-45)" font-size="8.3" font-weight="bold" text-anchor="end" fill="#000" stroke="#000" stroke-width="0.15">3000</text>
<text transform="translate(375.2,112.4) rotate(-45)" font-size="8.3" font-weight="bold" text-anchor="end" fill="#000" stroke="#000" stroke-width="0.15">4000</text>
<text transform="translate(389.6,112.4) rotate(-45)" font-size="8.3" font-weight="bold" text-anchor="end" fill="#000" stroke="#000" stroke-width="0.15">9000</text>
<text transform="translate(397.2,112.4) rotate(-45)" font-size="8.3" font-weight="bold" text-anchor="end" fill="#000" stroke="#000" stroke-width="0.15">12000</text>
<text x="360.4" y="142.0" font-size="9.1" font-weight="normal" text-anchor="middle" fill="#000" textLength="88.0" lengthAdjust="spacingAndGlyphs" stroke="#000" stroke-width="0.22">corrected MFI PD-L1</text>
<text x="413.0" y="8.7" font-size="10.4" font-weight="bold" text-anchor="start" fill="#000" stroke="#000" stroke-width="0.15">C</text>
<line x1="476.3" y1="31.8" x2="476.3" y2="119.9" stroke="#000" stroke-width="1.1"/>
<line x1="475.8" y1="119.3" x2="520" y2="119.3" stroke="#000" stroke-width="1.1"/>
<line x1="473.8" y1="42.79999999999998" x2="476.3" y2="42.79999999999998" stroke="#000" stroke-width="1.0"/>
<text x="472.0" y="45.09999999999998" font-size="6.4" font-weight="bold" text-anchor="end" fill="#000" textLength="21.5" lengthAdjust="spacingAndGlyphs" stroke="#000" stroke-width="0.15">1.5x10<tspan baseline-shift="super" font-size="62%">8</tspan></text>
<line x1="473.8" y1="68.39999999999999" x2="476.3" y2="68.39999999999999" stroke="#000" stroke-width="1.0"/>
<text x="472.0" y="70.69999999999999" font-size="6.4" font-weight="bold" text-anchor="end" fill="#000" textLength="21.5" lengthAdjust="spacingAndGlyphs" stroke="#000" stroke-width="0.15">1.0x10<tspan baseline-shift="super" font-size="62%">8</tspan></text>
<line x1="473.8" y1="94.0" x2="476.3" y2="94.0" stroke="#000" stroke-width="1.0"/>
<text x="472.0" y="96.3" font-size="6.4" font-weight="bold" text-anchor="end" fill="#000" textLength="21.5" lengthAdjust="spacingAndGlyphs" stroke="#000" stroke-width="0.15">5.0x10<tspan baseline-shift="super" font-size="62%">7</tspan></text>
<line x1="473.8" y1="119.6" x2="476.3" y2="119.6" stroke="#000" stroke-width="1.0"/>
<text x="472.0" y="121.89999999999999" font-size="6.4" font-weight="bold" text-anchor="end" fill="#000" stroke="#000" stroke-width="0.15">0</text>
<line x1="486.8" y1="119.3" x2="486.8" y2="121.8" stroke="#000" stroke-width="1.0"/>
<line x1="508.9" y1="119.3" x2="508.9" y2="121.8" stroke="#000" stroke-width="1.0"/>
<path d="M488.9,24.2 L488.9,22.1 L509.8,22.1 L509.8,24.2" fill="none" stroke="#000" stroke-width="0.9"/>
<circle cx="497.50" cy="20.40" r="1.3" fill="#000"/>
<circle cx="500.60" cy="20.40" r="1.3" fill="#000"/>
<circle cx="503.70" cy="20.40" r="1.3" fill="#000"/>
<circle cx="480.00" cy="117.50" r="1.3" fill="#000"/>
<circle cx="483.00" cy="116.20" r="1.3" fill="#000"/>
<circle cx="486.00" cy="117.80" r="1.3" fill="#000"/>
<circle cx="489.00" cy="116.50" r="1.3" fill="#000"/>
<circle cx="491.50" cy="117.80" r="1.3" fill="#000"/>
<circle cx="484.50" cy="115.30" r="1.3" fill="#000"/>
<circle cx="487.50" cy="118.30" r="1.3" fill="#000"/>
<circle cx="481.50" cy="118.40" r="1.3" fill="#000"/>
<line x1="479.0" y1="117.6" x2="493.5" y2="117.6" stroke="#000" stroke-width="1.0"/>
<circle cx="506.90" cy="40.80" r="1.3" fill="#000"/>
<circle cx="511.00" cy="38.50" r="1.3" fill="#000"/>
<circle cx="506.90" cy="55.70" r="1.3" fill="#000"/>
<circle cx="511.00" cy="58.60" r="1.3" fill="#000"/>
<circle cx="508.50" cy="74.50" r="1.3" fill="#000"/>
<circle cx="511.00" cy="78.20" r="1.3" fill="#000"/>
<circle cx="507.00" cy="81.80" r="1.3" fill="#000"/>
<circle cx="505.20" cy="85.70" r="1.3" fill="#000"/>
<circle cx="510.50" cy="85.00" r="1.3" fill="#000"/>
<circle cx="507.50" cy="88.20" r="1.3" fill="#000"/>
<circle cx="512.00" cy="90.50" r="1.3" fill="#000"/>
<circle cx="504.50" cy="92.40" r="1.3" fill="#000"/>
<circle cx="509.00" cy="95.70" r="1.3" fill="#000"/>
<circle cx="512.50" cy="96.50" r="1.3" fill="#000"/>
<circle cx="505.50" cy="99.80" r="1.3" fill="#000"/>
<circle cx="509.50" cy="101.00" r="1.3" fill="#000"/>
<circle cx="512.50" cy="104.00" r="1.3" fill="#000"/>
<circle cx="506.50" cy="104.80" r="1.3" fill="#000"/>
<circle cx="508.00" cy="109.80" r="1.3" fill="#000"/>
<circle cx="511.50" cy="112.00" r="1.3" fill="#000"/>
<circle cx="508.90" cy="118.00" r="1.3" fill="#000"/>
<line x1="501.4" y1="89.6" x2="514.7" y2="89.6" stroke="#000" stroke-width="1.0"/>
<line x1="508.9" y1="70.9" x2="508.9" y2="117.0" stroke="#000" stroke-width="1.0"/>
<line x1="505.2" y1="70.9" x2="512.4" y2="70.9" stroke="#000" stroke-width="1.0"/>
<text transform="translate(489.0,130.6) rotate(-45)" font-size="8.0" font-weight="bold" text-anchor="end" fill="#000" stroke="#000" stroke-width="0.15">WT</text>
<text transform="translate(510.4,129.6) rotate(-45)" font-size="7.9" font-weight="bold" text-anchor="end" fill="#000" stroke="#000" stroke-width="0.15">E&#956;-TCL1</text>
<text transform="translate(434.0,76.2) rotate(-90)" font-size="8.8" font-weight="normal" text-anchor="middle" fill="#000" textLength="115" lengthAdjust="spacingAndGlyphs" stroke="#000" stroke-width="0.22">spleen AN PD-L1<tspan baseline-shift="super" font-size="62%">+</tspan>CD19<tspan baseline-shift="super" font-size="62%">+</tspan>CD5<tspan baseline-shift="super" font-size="62%">+</tspan></text>
<text transform="translate(444.3,76.6) rotate(-90)" font-size="8.5" font-weight="normal" text-anchor="middle" fill="#000" textLength="130.8" lengthAdjust="spacingAndGlyphs" stroke="#000" stroke-width="0.22">E&#956;-TCL1/ CD19<tspan baseline-shift="super" font-size="62%">+</tspan> WT lymphocytes</text>
<text x="0.3" y="166.6" font-size="10.2" font-weight="bold" text-anchor="start" fill="#000" stroke="#000" stroke-width="0.15">D</text>
<line x1="38.2" y1="167.8" x2="38.2" y2="258.3" stroke="#000" stroke-width="1.2"/>
<line x1="37.6" y1="257.7" x2="144.5" y2="257.7" stroke="#000" stroke-width="1.3"/>
<line x1="36.0" y1="257.7" x2="38.2" y2="257.7" stroke="#000" stroke-width="1.0"/>
<text x="35.3" y="260.0" font-size="6.6" font-weight="bold" text-anchor="end" fill="#000" stroke="#000" stroke-width="0.15">0</text>
<line x1="36.0" y1="244.95" x2="38.2" y2="244.95" stroke="#000" stroke-width="1.0"/>
<text x="35.3" y="247.25" font-size="6.6" font-weight="bold" text-anchor="end" fill="#000" stroke="#000" stroke-width="0.15">1000</text>
<line x1="36.0" y1="232.2" x2="38.2" y2="232.2" stroke="#000" stroke-width="1.0"/>
<text x="35.3" y="234.5" font-size="6.6" font-weight="bold" text-anchor="end" fill="#000" stroke="#000" stroke-width="0.15">2000</text>
<line x1="36.0" y1="219.45" x2="38.2" y2="219.45" stroke="#000" stroke-width="1.0"/>
<text x="35.3" y="221.75" font-size="6.6" font-weight="bold" text-anchor="end" fill="#000" stroke="#000" stroke-width="0.15">3000</text>
<line x1="36.0" y1="206.7" x2="38.2" y2="206.7" stroke="#000" stroke-width="1.0"/>
<text x="35.3" y="209.0" font-size="6.6" font-weight="bold" text-anchor="end" fill="#000" stroke="#000" stroke-width="0.15">4000</text>
<line x1="36.0" y1="193.95" x2="38.2" y2="193.95" stroke="#000" stroke-width="1.0"/>
<text x="35.3" y="196.25" font-size="6.6" font-weight="bold" text-anchor="end" fill="#000" stroke="#000" stroke-width="0.15">5000</text>
<line x1="36.0" y1="181.2" x2="38.2" y2="181.2" stroke="#000" stroke-width="1.0"/>
<text x="35.3" y="183.5" font-size="6.6" font-weight="bold" text-anchor="end" fill="#000" stroke="#000" stroke-width="0.15">6000</text>
<line x1="36.0" y1="168.45" x2="38.2" y2="168.45" stroke="#000" stroke-width="1.0"/>
<text x="35.3" y="170.75" font-size="6.6" font-weight="bold" text-anchor="end" fill="#000" stroke="#000" stroke-width="0.15">7000</text>
<line x1="78.6" y1="167.8" x2="78.6" y2="257.7" stroke="#000" stroke-width="1.2"/>
<line x1="131.2" y1="167.8" x2="131.2" y2="257.7" stroke="#000" stroke-width="1.2"/>
<text transform="translate(16.9,212.7) rotate(-90)" font-size="8.6" font-weight="normal" text-anchor="middle" fill="#000" textLength="41.8" lengthAdjust="spacingAndGlyphs" stroke="#000" stroke-width="0.22">MFI PD-L1</text>
<text x="60.9" y="170.6" font-size="8.6" font-weight="bold" text-anchor="middle" fill="#000" textLength="12.7" lengthAdjust="spacingAndGlyphs" stroke="#000" stroke-width="0.15">WT</text>
<text x="104.8" y="170.6" font-size="8.6" font-weight="bold" text-anchor="middle" fill="#000" textLength="35.8" lengthAdjust="spacingAndGlyphs" stroke="#000" stroke-width="0.15">E&#956;-TCL1</text>
<line x1="44.8" y1="257.7" x2="44.8" y2="260.3" stroke="#000" stroke-width="1.0"/>
<text transform="translate(46.599999999999994,267.8) rotate(-45)" font-size="6.8" font-weight="bold" text-anchor="end" fill="#000" stroke="#000" stroke-width="0.15">3mo hBC</text>
<line x1="58.1" y1="257.7" x2="58.1" y2="260.3" stroke="#000" stroke-width="1.0"/>
<text transform="translate(59.9,267.8) rotate(-45)" font-size="6.8" font-weight="bold" text-anchor="end" fill="#000" stroke="#000" stroke-width="0.15">6mo hBC</text>
<line x1="71.4" y1="257.7" x2="71.4" y2="260.3" stroke="#000" stroke-width="1.0"/>
<text transform="translate(73.2,267.8) rotate(-45)" font-size="6.8" font-weight="bold" text-anchor="end" fill="#000" stroke="#000" stroke-width="0.15">12mo hBC</text>
<line x1="84.7" y1="257.7" x2="84.7" y2="260.3" stroke="#000" stroke-width="1.0"/>
<text transform="translate(86.5,267.8) rotate(-45)" font-size="6.8" font-weight="bold" text-anchor="end" fill="#000" stroke="#000" stroke-width="0.15">3mo hBC</text>
<line x1="98.0" y1="257.7" x2="98.0" y2="260.3" stroke="#000" stroke-width="1.0"/>
<text transform="translate(99.8,267.8) rotate(-45)" font-size="6.8" font-weight="bold" text-anchor="end" fill="#000" stroke="#000" stroke-width="0.15">6mo hBC</text>
<line x1="111.3" y1="257.7" x2="111.3" y2="260.3" stroke="#000" stroke-width="1.0"/>
<text transform="translate(113.1,267.8) rotate(-45)" font-size="6.8" font-weight="bold" text-anchor="end" fill="#000" stroke="#000" stroke-width="0.15">6mo CLL</text>
<line x1="124.6" y1="257.7" x2="124.6" y2="260.3" stroke="#000" stroke-width="1.0"/>
<text transform="translate(126.39999999999999,267.8) rotate(-45)" font-size="6.8" font-weight="bold" text-anchor="end" fill="#000" stroke="#000" stroke-width="0.15">12mo CLL</text>
<line x1="137.9" y1="257.7" x2="137.9" y2="260.3" stroke="#000" stroke-width="1.0"/>
<text transform="translate(139.70000000000002,267.8) rotate(-45)" font-size="6.8" font-weight="bold" text-anchor="end" fill="#000" stroke="#000" stroke-width="0.15">AT CLL</text>
<circle cx="43.30" cy="245.59" r="1.2" fill="#111"/>
<circle cx="46.30" cy="246.22" r="1.2" fill="#111"/>
<circle cx="42.30" cy="247.50" r="1.2" fill="#111"/>
<circle cx="47.30" cy="247.75" r="1.2" fill="#111"/>
<circle cx="44.80" cy="248.77" r="1.2" fill="#111"/>
<circle cx="42.80" cy="250.05" r="1.2" fill="#111"/>
<circle cx="46.80" cy="250.05" r="1.2" fill="#111"/>
<circle cx="44.80" cy="251.32" r="1.2" fill="#111"/>
<circle cx="44.80" cy="246.86" r="0.8" fill="#222"/>
<circle cx="45.80" cy="249.41" r="0.8" fill="#222"/>
<circle cx="41.80" cy="253.24" r="1.25" fill="#8a8a8a"/>
<circle cx="44.80" cy="253.49" r="1.25" fill="#8a8a8a"/>
<circle cx="47.80" cy="253.88" r="1.25" fill="#8a8a8a"/>
<circle cx="43.30" cy="254.51" r="1.25" fill="#8a8a8a"/>
<circle cx="46.30" cy="254.89" r="1.25" fill="#8a8a8a"/>
<circle cx="44.80" cy="255.15" r="1.25" fill="#8a8a8a"/>
<circle cx="44.80" cy="239.85" r="1.15" fill="#c8c8c8"/>
<circle cx="42.80" cy="253.88" r="1.15" fill="#c8c8c8"/>
<circle cx="46.80" cy="255.79" r="1.15" fill="#c8c8c8"/>
<circle cx="44.80" cy="256.43" r="1.15" fill="#c8c8c8"/>
<circle cx="58.10" cy="242.40" r="1.2" fill="#111"/>
<circle cx="56.60" cy="244.31" r="1.2" fill="#111"/>
<circle cx="59.60" cy="245.59" r="1.2" fill="#111"/>
<circle cx="55.60" cy="246.86" r="1.2" fill="#111"/>
<circle cx="60.60" cy="247.50" r="1.2" fill="#111"/>
<circle cx="58.10" cy="248.77" r="1.2" fill="#111"/>
<circle cx="56.10" cy="249.41" r="1.2" fill="#111"/>
<circle cx="60.10" cy="250.05" r="1.2" fill="#111"/>
<circle cx="58.10" cy="251.32" r="1.2" fill="#111"/>
<circle cx="57.10" cy="252.60" r="1.2" fill="#111"/>
<circle cx="59.10" cy="246.22" r="0.8" fill="#222"/>
<circle cx="56.10" cy="252.60" r="1.25" fill="#8a8a8a"/>
<circle cx="60.10" cy="253.24" r="1.25" fill="#8a8a8a"/>
<circle cx="58.10" cy="253.88" r="1.25" fill="#8a8a8a"/>
<circle cx="56.60" cy="255.15" r="1.25" fill="#8a8a8a"/>
<circle cx="59.60" cy="255.79" r="1.25" fill="#8a8a8a"/>
<circle cx="58.10" cy="256.43" r="1.25" fill="#8a8a8a"/>
<circle cx="58.10" cy="237.94" r="1.15" fill="#c8c8c8"/>
<circle cx="58.10" cy="222.00" r="1.15" fill="#c8c8c8"/>
<circle cx="59.10" cy="241.12" r="1.15" fill="#c8c8c8"/>
<circle cx="56.10" cy="254.51" r="1.15" fill="#c8c8c8"/>
<circle cx="69.40" cy="246.22" r="1.2" fill="#111"/>
<circle cx="71.40" cy="246.86" r="1.2" fill="#111"/>
<circle cx="73.80" cy="246.86" r="1.2" fill="#111"/>
<circle cx="70.40" cy="248.14" r="1.2" fill="#111"/>
<circle cx="72.90" cy="248.77" r="1.2" fill="#111"/>
<circle cx="68.90" cy="249.41" r="1.2" fill="#111"/>
<circle cx="73.90" cy="250.05" r="1.2" fill="#111"/>
<circle cx="71.40" cy="250.69" r="1.2" fill="#111"/>
<circle cx="70.40" cy="247.50" r="1.25" fill="#8a8a8a"/>
<circle cx="73.40" cy="248.14" r="1.25" fill="#8a8a8a"/>
<circle cx="68.90" cy="248.77" r="1.25" fill="#8a8a8a"/>
<circle cx="72.40" cy="249.41" r="1.25" fill="#8a8a8a"/>
<circle cx="70.40" cy="250.05" r="1.25" fill="#8a8a8a"/>
<circle cx="69.90" cy="253.88" r="1.25" fill="#8a8a8a"/>
<circle cx="72.90" cy="253.88" r="1.25" fill="#8a8a8a"/>
<circle cx="71.40" cy="251.32" r="1.15" fill="#c8c8c8"/>
<circle cx="73.40" cy="251.96" r="1.15" fill="#c8c8c8"/>
<circle cx="81.70" cy="243.93" r="0.8" fill="#222"/>
<circle cx="83.70" cy="243.80" r="0.8" fill="#222"/>
<circle cx="85.70" cy="243.67" r="0.8" fill="#222"/>
<circle cx="87.70" cy="243.55" r="0.8" fill="#222"/>
<circle cx="89.90" cy="242.66" r="0.8" fill="#222"/>
<circle cx="83.70" cy="248.77" r="1.2" fill="#111"/>
<circle cx="85.70" cy="250.05" r="1.2" fill="#111"/>
<circle cx="82.70" cy="251.32" r="1.2" fill="#111"/>
<circle cx="86.70" cy="251.96" r="1.2" fill="#111"/>
<circle cx="84.70" cy="253.24" r="1.2" fill="#111"/>
<circle cx="83.70" cy="254.51" r="1.2" fill="#111"/>
<circle cx="86.20" cy="253.88" r="1.25" fill="#8a8a8a"/>
<circle cx="82.70" cy="255.15" r="1.25" fill="#8a8a8a"/>
<circle cx="85.70" cy="255.79" r="1.25" fill="#8a8a8a"/>
<circle cx="83.70" cy="256.43" r="1.25" fill="#8a8a8a"/>
<circle cx="84.70" cy="257.06" r="1.25" fill="#8a8a8a"/>
<circle cx="84.70" cy="251.32" r="1.15" fill="#c8c8c8"/>
<circle cx="82.70" cy="252.60" r="1.15" fill="#c8c8c8"/>
<circle cx="98.00" cy="238.57" r="0.8" fill="#222"/>
<circle cx="96.50" cy="246.22" r="1.2" fill="#111"/>
<circle cx="99.50" cy="246.48" r="1.2" fill="#111"/>
<circle cx="95.50" cy="247.50" r="1.2" fill="#111"/>
<circle cx="100.50" cy="247.50" r="1.2" fill="#111"/>
<circle cx="98.00" cy="248.14" r="1.2" fill="#111"/>
<circle cx="97.00" cy="248.77" r="1.2" fill="#111"/>
<circle cx="99.00" cy="249.41" r="1.2" fill="#111"/>
<circle cx="98.00" cy="251.32" r="1.2" fill="#111"/>
<circle cx="96.00" cy="252.60" r="1.25" fill="#8a8a8a"/>
<circle cx="100.00" cy="253.24" r="1.25" fill="#8a8a8a"/>
<circle cx="98.00" cy="254.51" r="1.25" fill="#8a8a8a"/>
<circle cx="96.50" cy="255.79" r="1.25" fill="#8a8a8a"/>
<circle cx="99.50" cy="256.43" r="1.25" fill="#8a8a8a"/>
<circle cx="97.00" cy="253.88" r="1.15" fill="#c8c8c8"/>
<circle cx="100.00" cy="255.15" r="1.15" fill="#c8c8c8"/>
<circle cx="110.30" cy="183.11" r="1.2" fill="#111"/>
<circle cx="112.30" cy="185.02" r="1.2" fill="#111"/>
<circle cx="110.30" cy="187.57" r="1.25" fill="#8a8a8a"/>
<circle cx="111.30" cy="193.95" r="1.15" fill="#c8c8c8"/>
<circle cx="111.30" cy="197.77" r="1.15" fill="#c8c8c8"/>
<circle cx="111.30" cy="202.88" r="1.2" fill="#111"/>
<circle cx="111.30" cy="206.70" r="1.2" fill="#111"/>
<circle cx="110.30" cy="215.62" r="1.15" fill="#c8c8c8"/>
<circle cx="109.80" cy="223.27" r="1.25" fill="#8a8a8a"/>
<circle cx="112.80" cy="224.55" r="1.15" fill="#c8c8c8"/>
<circle cx="111.30" cy="225.82" r="1.2" fill="#111"/>
<circle cx="109.30" cy="230.92" r="1.25" fill="#8a8a8a"/>
<circle cx="113.30" cy="232.20" r="1.15" fill="#c8c8c8"/>
<circle cx="111.30" cy="233.47" r="1.2" fill="#111"/>
<circle cx="110.30" cy="234.75" r="1.25" fill="#8a8a8a"/>
<circle cx="112.30" cy="237.30" r="1.2" fill="#111"/>
<circle cx="110.30" cy="239.85" r="1.2" fill="#111"/>
<circle cx="111.80" cy="242.40" r="1.2" fill="#111"/>
<circle cx="111.30" cy="246.22" r="1.15" fill="#c8c8c8"/>
<circle cx="111.30" cy="257.06" r="1.2" fill="#111"/>
<circle cx="124.60" cy="196.50" r="1.2" fill="#111"/>
<circle cx="124.60" cy="200.32" r="1.2" fill="#111"/>
<circle cx="123.60" cy="206.70" r="1.2" fill="#111"/>
<circle cx="126.10" cy="207.97" r="1.25" fill="#8a8a8a"/>
<circle cx="124.60" cy="210.52" r="1.2" fill="#111"/>
<circle cx="124.60" cy="216.90" r="1.2" fill="#111"/>
<circle cx="123.60" cy="220.72" r="1.25" fill="#8a8a8a"/>
<circle cx="126.10" cy="222.00" r="1.15" fill="#c8c8c8"/>
<circle cx="124.60" cy="224.55" r="1.2" fill="#111"/>
<circle cx="122.60" cy="224.55" r="1.25" fill="#8a8a8a"/>
<circle cx="123.60" cy="230.92" r="1.15" fill="#c8c8c8"/>
<circle cx="125.60" cy="232.20" r="1.25" fill="#8a8a8a"/>
<circle cx="122.60" cy="233.47" r="1.15" fill="#c8c8c8"/>
<circle cx="126.60" cy="234.75" r="1.25" fill="#8a8a8a"/>
<circle cx="124.60" cy="235.39" r="1.15" fill="#c8c8c8"/>
<circle cx="123.60" cy="236.02" r="1.25" fill="#8a8a8a"/>
<circle cx="137.90" cy="173.55" r="0.8" fill="#222"/>
<circle cx="137.90" cy="190.12" r="1.2" fill="#111"/>
<circle cx="135.90" cy="192.67" r="1.2" fill="#111"/>
<circle cx="139.90" cy="193.95" r="1.2" fill="#111"/>
<circle cx="137.90" cy="195.22" r="1.25" fill="#8a8a8a"/>
<circle cx="135.40" cy="196.50" r="1.2" fill="#111"/>
<circle cx="140.40" cy="197.77" r="1.25" fill="#8a8a8a"/>
<circle cx="137.90" cy="199.05" r="1.2" fill="#111"/>
<circle cx="136.40" cy="200.32" r="1.25" fill="#8a8a8a"/>
<circle cx="139.40" cy="201.60" r="1.2" fill="#111"/>
<circle cx="135.90" cy="204.15" r="1.25" fill="#8a8a8a"/>
<circle cx="139.90" cy="204.15" r="1.2" fill="#111"/>
<circle cx="137.90" cy="206.70" r="1.25" fill="#8a8a8a"/>
<circle cx="136.90" cy="206.70" r="1.2" fill="#111"/>
<circle cx="139.40" cy="209.25" r="1.15" fill="#c8c8c8"/>
<circle cx="136.40" cy="211.80" r="1.15" fill="#c8c8c8"/>
<circle cx="137.90" cy="213.07" r="1.25" fill="#8a8a8a"/>
<circle cx="138.90" cy="215.62" r="1.15" fill="#c8c8c8"/>
<circle cx="136.90" cy="224.55" r="1.25" fill="#8a8a8a"/>
<circle cx="138.90" cy="227.10" r="1.15" fill="#c8c8c8"/>
<circle cx="137.90" cy="228.38" r="1.25" fill="#8a8a8a"/>
<circle cx="135.90" cy="237.30" r="1.2" fill="#111"/>
<circle cx="138.90" cy="238.57" r="1.2" fill="#111"/>
<circle cx="140.40" cy="239.85" r="1.25" fill="#8a8a8a"/>
<circle cx="136.90" cy="241.12" r="1.2" fill="#111"/>
<circle cx="137.90" cy="242.40" r="1.25" fill="#8a8a8a"/>
<circle cx="139.90" cy="243.67" r="1.2" fill="#111"/>
<circle cx="137.90" cy="246.22" r="1.15" fill="#c8c8c8"/>
<line x1="182.7" y1="167.8" x2="182.7" y2="258.5" stroke="#000" stroke-width="1.2"/>
<line x1="182.1" y1="257.9" x2="290.0" y2="257.9" stroke="#000" stroke-width="1.3"/>
<line x1="180.5" y1="257.9" x2="182.7" y2="257.9" stroke="#000" stroke-width="1.0"/>
<text x="179.9" y="260.2" font-size="6.6" font-weight="bold" text-anchor="end" fill="#000" stroke="#000" stroke-width="0.15">0</text>
<line x1="180.5" y1="239.99999999999997" x2="182.7" y2="239.99999999999997" stroke="#000" stroke-width="1.0"/>
<text x="179.9" y="242.29999999999998" font-size="6.6" font-weight="bold" text-anchor="end" fill="#000" stroke="#000" stroke-width="0.15">500</text>
<line x1="180.5" y1="222.09999999999997" x2="182.7" y2="222.09999999999997" stroke="#000" stroke-width="1.0"/>
<text x="179.9" y="224.39999999999998" font-size="6.6" font-weight="bold" text-anchor="end" fill="#000" stroke="#000" stroke-width="0.15">1000</text>
<line x1="180.5" y1="204.2" x2="182.7" y2="204.2" stroke="#000" stroke-width="1.0"/>
<text x="179.9" y="206.5" font-size="6.6" font-weight="bold" text-anchor="end" fill="#000" stroke="#000" stroke-width="0.15">1500</text>
<line x1="180.5" y1="186.29999999999998" x2="182.7" y2="186.29999999999998" stroke="#000" stroke-width="1.0"/>
<text x="179.9" y="188.6" font-size="6.6" font-weight="bold" text-anchor="end" fill="#000" stroke="#000" stroke-width="0.15">2000</text>
<line x1="180.5" y1="168.39999999999998" x2="182.7" y2="168.39999999999998" stroke="#000" stroke-width="1.0"/>
<text x="179.9" y="170.7" font-size="6.6" font-weight="bold" text-anchor="end" fill="#000" stroke="#000" stroke-width="0.15">2500</text>
<line x1="223.3" y1="167.8" x2="223.3" y2="257.7" stroke="#000" stroke-width="1.2"/>
<line x1="276.4" y1="167.8" x2="276.4" y2="257.7" stroke="#000" stroke-width="1.2"/>
<text transform="translate(160.8,212.7) rotate(-90)" font-size="8.6" font-weight="normal" text-anchor="middle" fill="#000" textLength="41.8" lengthAdjust="spacingAndGlyphs" stroke="#000" stroke-width="0.22">MFI PD-L2</text>
<text x="206.7" y="170.6" font-size="8.6" font-weight="bold" text-anchor="middle" fill="#000" textLength="12.7" lengthAdjust="spacingAndGlyphs" stroke="#000" stroke-width="0.15">WT</text>
<text x="250.9" y="170.6" font-size="8.6" font-weight="bold" text-anchor="middle" fill="#000" textLength="35.8" lengthAdjust="spacingAndGlyphs" stroke="#000" stroke-width="0.15">E&#956;-TCL1</text>
<line x1="190.2" y1="257.7" x2="190.2" y2="260.3" stroke="#000" stroke-width="1.0"/>
<text transform="translate(192.0,267.8) rotate(-45)" font-size="6.8" font-weight="bold" text-anchor="end" fill="#000" stroke="#000" stroke-width="0.15">3mo hBC</text>
<line x1="203.4" y1="257.7" x2="203.4" y2="260.3" stroke="#000" stroke-width="1.0"/>
<text transform="translate(205.20000000000002,267.8) rotate(-45)" font-size="6.8" font-weight="bold" text-anchor="end" fill="#000" stroke="#000" stroke-width="0.15">6mo hBC</text>
<line x1="216.6" y1="257.7" x2="216.6" y2="260.3" stroke="#000" stroke-width="1.0"/>
<text transform="translate(218.4,267.8) rotate(-45)" font-size="6.8" font-weight="bold" text-anchor="end" fill="#000" stroke="#000" stroke-width="0.15">12mo hBC</text>
<line x1="229.9" y1="257.7" x2="229.9" y2="260.3" stroke="#000" stroke-width="1.0"/>
<text transform="translate(231.70000000000002,267.8) rotate(-45)" font-size="6.8" font-weight="bold" text-anchor="end" fill="#000" stroke="#000" stroke-width="0.15">3mo hBC</text>
<line x1="243.2" y1="257.7" x2="243.2" y2="260.3" stroke="#000" stroke-width="1.0"/>
<text transform="translate(245.0,267.8) rotate(-45)" font-size="6.8" font-weight="bold" text-anchor="end" fill="#000" stroke="#000" stroke-width="0.15">6mo hBC</text>
<line x1="256.5" y1="257.7" x2="256.5" y2="260.3" stroke="#000" stroke-width="1.0"/>
<text transform="translate(258.3,267.8) rotate(-45)" font-size="6.8" font-weight="bold" text-anchor="end" fill="#000" stroke="#000" stroke-width="0.15">6mo CLL</text>
<line x1="270.1" y1="257.7" x2="270.1" y2="260.3" stroke="#000" stroke-width="1.0"/>
<text transform="translate(271.90000000000003,267.8) rotate(-45)" font-size="6.8" font-weight="bold" text-anchor="end" fill="#000" stroke="#000" stroke-width="0.15">12mo CLL</text>
<line x1="283.5" y1="257.7" x2="283.5" y2="260.3" stroke="#000" stroke-width="1.0"/>
<text transform="translate(285.3,267.8) rotate(-45)" font-size="6.8" font-weight="bold" text-anchor="end" fill="#000" stroke="#000" stroke-width="0.15">AT CLL</text>
<circle cx="190.20" cy="238.21" r="1.15" fill="#c8c8c8"/>
<circle cx="189.20" cy="241.79" r="1.15" fill="#c8c8c8"/>
<circle cx="188.20" cy="247.16" r="1.25" fill="#8a8a8a"/>
<circle cx="192.20" cy="248.95" r="1.2" fill="#111"/>
<circle cx="189.20" cy="250.74" r="1.2" fill="#111"/>
<circle cx="191.70" cy="251.46" r="1.25" fill="#8a8a8a"/>
<circle cx="187.70" cy="252.53" r="1.2" fill="#111"/>
<circle cx="192.70" cy="253.60" r="1.2" fill="#111"/>
<circle cx="190.20" cy="254.32" r="1.25" fill="#8a8a8a"/>
<circle cx="189.20" cy="255.04" r="1.2" fill="#111"/>
<circle cx="191.20" cy="255.75" r="1.25" fill="#8a8a8a"/>
<circle cx="190.20" cy="256.11" r="1.2" fill="#111"/>
<circle cx="192.20" cy="243.58" r="1.15" fill="#c8c8c8"/>
<circle cx="203.40" cy="229.26" r="1.15" fill="#c8c8c8"/>
<circle cx="204.40" cy="234.63" r="1.15" fill="#c8c8c8"/>
<circle cx="201.40" cy="240.00" r="1.2" fill="#111"/>
<circle cx="205.40" cy="241.79" r="1.15" fill="#c8c8c8"/>
<circle cx="203.40" cy="245.37" r="1.2" fill="#111"/>
<circle cx="201.90" cy="247.16" r="1.25" fill="#8a8a8a"/>
<circle cx="204.90" cy="248.95" r="1.2" fill="#111"/>
<circle cx="200.90" cy="250.74" r="1.25" fill="#8a8a8a"/>
<circle cx="205.90" cy="251.46" r="1.2" fill="#111"/>
<circle cx="203.40" cy="252.53" r="1.25" fill="#8a8a8a"/>
<circle cx="202.40" cy="253.60" r="1.2" fill="#111"/>
<circle cx="204.40" cy="254.32" r="1.25" fill="#8a8a8a"/>
<circle cx="203.40" cy="255.04" r="1.2" fill="#111"/>
<circle cx="216.60" cy="234.63" r="1.25" fill="#8a8a8a"/>
<circle cx="217.60" cy="238.21" r="1.2" fill="#111"/>
<circle cx="214.60" cy="240.00" r="1.25" fill="#8a8a8a"/>
<circle cx="218.60" cy="241.79" r="1.2" fill="#111"/>
<circle cx="215.60" cy="243.58" r="1.25" fill="#8a8a8a"/>
<circle cx="217.60" cy="244.30" r="1.2" fill="#111"/>
<circle cx="214.10" cy="245.37" r="1.25" fill="#8a8a8a"/>
<circle cx="219.10" cy="246.44" r="1.2" fill="#111"/>
<circle cx="216.60" cy="247.16" r="1.25" fill="#8a8a8a"/>
<circle cx="215.10" cy="248.95" r="1.25" fill="#8a8a8a"/>
<circle cx="218.10" cy="250.02" r="1.2" fill="#111"/>
<circle cx="216.60" cy="250.74" r="1.15" fill="#c8c8c8"/>
<circle cx="228.40" cy="248.95" r="1.2" fill="#111"/>
<circle cx="231.40" cy="250.02" r="1.25" fill="#8a8a8a"/>
<circle cx="229.90" cy="250.74" r="1.2" fill="#111"/>
<circle cx="227.40" cy="252.53" r="1.25" fill="#8a8a8a"/>
<circle cx="232.40" cy="253.25" r="1.2" fill="#111"/>
<circle cx="228.90" cy="254.32" r="1.25" fill="#8a8a8a"/>
<circle cx="230.90" cy="255.04" r="1.2" fill="#111"/>
<circle cx="229.90" cy="255.75" r="1.25" fill="#8a8a8a"/>
<circle cx="231.90" cy="256.11" r="1.15" fill="#c8c8c8"/>
<circle cx="241.70" cy="247.16" r="0.8" fill="#222"/>
<circle cx="244.70" cy="247.88" r="0.8" fill="#222"/>
<circle cx="243.20" cy="248.95" r="1.2" fill="#111"/>
<circle cx="240.70" cy="250.02" r="1.25" fill="#8a8a8a"/>
<circle cx="245.70" cy="251.46" r="1.2" fill="#111"/>
<circle cx="242.20" cy="252.53" r="1.25" fill="#8a8a8a"/>
<circle cx="244.20" cy="253.60" r="1.2" fill="#111"/>
<circle cx="241.20" cy="254.32" r="1.25" fill="#8a8a8a"/>
<circle cx="245.20" cy="255.04" r="1.2" fill="#111"/>
<circle cx="243.20" cy="255.75" r="1.25" fill="#8a8a8a"/>
<circle cx="256.50" cy="182.72" r="0.8" fill="#222"/>
<circle cx="256.50" cy="186.30" r="0.8" fill="#222"/>
<circle cx="256.50" cy="189.88" r="1.25" fill="#8a8a8a"/>
<circle cx="256.50" cy="193.46" r="0.8" fill="#222"/>
<circle cx="255.50" cy="197.04" r="1.15" fill="#c8c8c8"/>
<circle cx="257.00" cy="198.83" r="0.8" fill="#222"/>
<circle cx="256.50" cy="204.20" r="1.25" fill="#8a8a8a"/>
<circle cx="256.50" cy="205.99" r="0.8" fill="#222"/>
<circle cx="256.50" cy="211.36" r="0.8" fill="#222"/>
<circle cx="256.50" cy="216.73" r="1.25" fill="#8a8a8a"/>
<circle cx="255.00" cy="218.52" r="1.15" fill="#c8c8c8"/>
<circle cx="256.50" cy="222.10" r="0.8" fill="#222"/>
<circle cx="256.50" cy="227.47" r="0.8" fill="#222"/>
<circle cx="256.50" cy="231.05" r="0.8" fill="#222"/>
<circle cx="256.50" cy="234.63" r="0.8" fill="#222"/>
<circle cx="256.50" cy="238.21" r="0.8" fill="#222"/>
<circle cx="256.50" cy="241.79" r="0.8" fill="#222"/>
<circle cx="256.50" cy="245.37" r="0.8" fill="#222"/>
<circle cx="257.50" cy="213.15" r="1.25" fill="#8a8a8a"/>
<circle cx="268.60" cy="186.30" r="1.25" fill="#8a8a8a"/>
<circle cx="271.60" cy="188.09" r="1.2" fill="#111"/>
<circle cx="270.10" cy="189.88" r="1.15" fill="#c8c8c8"/>
<circle cx="269.10" cy="193.46" r="1.25" fill="#8a8a8a"/>
<circle cx="271.10" cy="197.04" r="1.15" fill="#c8c8c8"/>
<circle cx="269.10" cy="200.62" r="1.25" fill="#8a8a8a"/>
<circle cx="271.10" cy="204.20" r="1.15" fill="#c8c8c8"/>
<circle cx="268.10" cy="205.99" r="1.25" fill="#8a8a8a"/>
<circle cx="271.60" cy="209.57" r="1.2" fill="#111"/>
<circle cx="270.10" cy="211.36" r="1.15" fill="#c8c8c8"/>
<circle cx="270.10" cy="222.10" r="0.8" fill="#222"/>
<circle cx="270.10" cy="240.00" r="0.8" fill="#222"/>
<circle cx="283.50" cy="180.93" r="1.15" fill="#c8c8c8"/>
<circle cx="282.00" cy="184.51" r="1.25" fill="#8a8a8a"/>
<circle cx="285.00" cy="186.30" r="1.2" fill="#111"/>
<circle cx="283.50" cy="188.09" r="1.25" fill="#8a8a8a"/>
<circle cx="281.50" cy="189.88" r="1.15" fill="#c8c8c8"/>
<circle cx="285.50" cy="191.67" r="1.2" fill="#111"/>
<circle cx="282.50" cy="193.46" r="1.25" fill="#8a8a8a"/>
<circle cx="284.50" cy="195.25" r="1.2" fill="#111"/>
<circle cx="283.50" cy="197.04" r="1.25" fill="#8a8a8a"/>
<circle cx="281.50" cy="198.83" r="1.15" fill="#c8c8c8"/>
<circle cx="285.50" cy="200.62" r="1.2" fill="#111"/>
<circle cx="283.50" cy="202.41" r="1.25" fill="#8a8a8a"/>
<circle cx="282.50" cy="205.99" r="1.15" fill="#c8c8c8"/>
<circle cx="284.50" cy="214.94" r="1.25" fill="#8a8a8a"/>
<circle cx="283.50" cy="225.68" r="1.15" fill="#c8c8c8"/>
<circle cx="281.00" cy="236.42" r="0.8" fill="#222"/>
<circle cx="286.00" cy="238.21" r="0.8" fill="#222"/>
<circle cx="282.50" cy="241.79" r="0.8" fill="#222"/>
<circle cx="283.50" cy="243.58" r="0.8" fill="#222"/>
<rect x="88.6" y="294.4" width="137.2" height="15.1" fill="none" stroke="#111" stroke-width="0.9"/>
<circle cx="94.20" cy="302.00" r="1.0" fill="#111"/>
<text x="104.0" y="305.3" font-size="8.6" font-weight="normal" text-anchor="start" fill="#000" textLength="21.8" lengthAdjust="spacingAndGlyphs" stroke="#000" stroke-width="0.22">spleen</text>
<circle cx="137.20" cy="302.00" r="0.9" fill="#c4c4c4"/>
<text x="147.0" y="305.3" font-size="8.6" font-weight="normal" text-anchor="start" fill="#000" textLength="10.5" lengthAdjust="spacingAndGlyphs" stroke="#000" stroke-width="0.22">PB</text>
<circle cx="168.50" cy="302.00" r="1.0" fill="#222"/>
<text x="178.2" y="305.3" font-size="8.6" font-weight="normal" text-anchor="start" fill="#000" textLength="11.1" lengthAdjust="spacingAndGlyphs" stroke="#000" stroke-width="0.22">LN</text>
<circle cx="203.60" cy="302.00" r="1.2" fill="#8a8a8a"/>
<text x="212.3" y="305.3" font-size="8.6" font-weight="normal" text-anchor="start" fill="#000" textLength="12.8" lengthAdjust="spacingAndGlyphs" stroke="#000" stroke-width="0.22">BM</text>
<text x="306.2" y="165.2" font-size="10.2" font-weight="bold" text-anchor="start" fill="#000" stroke="#000" stroke-width="0.15">E</text>
<rect x="339.8" y="200.7" width="20.3" height="11.500000000000018" fill="#d6d6d6" stroke="none" stroke-width="1" shape-rendering="crispEdges"/>
<rect x="339.8" y="257.3" width="20.3" height="11.49999999999999" fill="#d6d6d6" stroke="none" stroke-width="1" shape-rendering="crispEdges"/>
<rect x="339.8" y="211.9" width="20.3" height="11.599999999999984" fill="#d6d6d6" stroke="none" stroke-width="1" shape-rendering="crispEdges"/>
<rect x="339.8" y="268.5" width="20.3" height="11.600000000000012" fill="#d6d6d6" stroke="none" stroke-width="1" shape-rendering="crispEdges"/>
<rect x="339.8" y="223.2" width="20.3" height="11.600000000000012" fill="#d6d6d6" stroke="none" stroke-width="1" shape-rendering="crispEdges"/>
<rect x="339.8" y="279.8" width="20.3" height="11.49999999999999" fill="#d6d6d6" stroke="none" stroke-width="1" shape-rendering="crispEdges"/>
<rect x="339.8" y="234.5" width="20.3" height="11.100000000000012" fill="#d6d6d6" stroke="none" stroke-width="1" shape-rendering="crispEdges"/>
<rect x="339.8" y="291.0" width="20.3" height="11.3" fill="#d6d6d6" stroke="none" stroke-width="1" shape-rendering="crispEdges"/>
<rect x="359.8" y="200.7" width="23.399999999999967" height="11.500000000000018" fill="#c5d7ee" stroke="none" stroke-width="1" shape-rendering="crispEdges"/>
<rect x="359.8" y="257.3" width="23.399999999999967" height="11.49999999999999" fill="#4f82cc" stroke="none" stroke-width="1" shape-rendering="crispEdges"/>
<rect x="359.8" y="211.9" width="23.399999999999967" height="11.599999999999984" fill="#c5d7ee" stroke="none" stroke-width="1" shape-rendering="crispEdges"/>
<rect x="359.8" y="268.5" width="23.399999999999967" height="11.600000000000012" fill="#bdbdbd" stroke="none" stroke-width="1" shape-rendering="crispEdges"/>
<rect x="359.8" y="223.2" width="23.399999999999967" height="11.600000000000012" fill="#bdbdbd" stroke="none" stroke-width="1" shape-rendering="crispEdges"/>
<rect x="359.8" y="279.8" width="23.399999999999967" height="11.49999999999999" fill="#bdbdbd" stroke="none" stroke-width="1" shape-rendering="crispEdges"/>
<rect x="359.8" y="234.5" width="23.399999999999967" height="11.100000000000012" fill="#bdbdbd" stroke="none" stroke-width="1" shape-rendering="crispEdges"/>
<rect x="359.8" y="291.0" width="23.399999999999967" height="11.3" fill="#4f82cc" stroke="none" stroke-width="1" shape-rendering="crispEdges"/>
<rect x="382.9" y="200.7" width="22.000000000000046" height="11.500000000000018" fill="#bdbdbd" stroke="none" stroke-width="1" shape-rendering="crispEdges"/>
<rect x="382.9" y="257.3" width="22.000000000000046" height="11.49999999999999" fill="#4f82cc" stroke="none" stroke-width="1" shape-rendering="crispEdges"/>
<rect x="382.9" y="211.9" width="22.000000000000046" height="11.599999999999984" fill="#e88a8a" stroke="none" stroke-width="1" shape-rendering="crispEdges"/>
<rect x="382.9" y="268.5" width="22.000000000000046" height="11.600000000000012" fill="#bdbdbd" stroke="none" stroke-width="1" shape-rendering="crispEdges"/>
<rect x="382.9" y="223.2" width="22.000000000000046" height="11.600000000000012" fill="#bdbdbd" stroke="none" stroke-width="1" shape-rendering="crispEdges"/>
<rect x="382.9" y="279.8" width="22.000000000000046" height="11.49999999999999" fill="#c5d7ee" stroke="none" stroke-width="1" shape-rendering="crispEdges"/>
<rect x="382.9" y="234.5" width="22.000000000000046" height="11.100000000000012" fill="#bdbdbd" stroke="none" stroke-width="1" shape-rendering="crispEdges"/>
<rect x="382.9" y="291.0" width="22.000000000000046" height="11.3" fill="#c5d7ee" stroke="none" stroke-width="1" shape-rendering="crispEdges"/>
<rect x="406.2" y="200.7" width="21.99999999999999" height="11.500000000000018" fill="#d6d6d6" stroke="none" stroke-width="1" shape-rendering="crispEdges"/>
<rect x="406.2" y="257.3" width="21.99999999999999" height="11.49999999999999" fill="#d6d6d6" stroke="none" stroke-width="1" shape-rendering="crispEdges"/>
<rect x="406.2" y="211.9" width="21.99999999999999" height="11.599999999999984" fill="#d6d6d6" stroke="none" stroke-width="1" shape-rendering="crispEdges"/>
<rect x="406.2" y="268.5" width="21.99999999999999" height="11.600000000000012" fill="#d6d6d6" stroke="none" stroke-width="1" shape-rendering="crispEdges"/>
<rect x="406.2" y="223.2" width="21.99999999999999" height="11.600000000000012" fill="#d6d6d6" stroke="none" stroke-width="1" shape-rendering="crispEdges"/>
<rect x="406.2" y="279.8" width="21.99999999999999" height="11.49999999999999" fill="#d6d6d6" stroke="none" stroke-width="1" shape-rendering="crispEdges"/>
<rect x="406.2" y="234.5" width="21.99999999999999" height="11.100000000000012" fill="#d6d6d6" stroke="none" stroke-width="1" shape-rendering="crispEdges"/>
<rect x="406.2" y="291.0" width="21.99999999999999" height="11.3" fill="#d6d6d6" stroke="none" stroke-width="1" shape-rendering="crispEdges"/>
<rect x="427.9" y="200.7" width="23.400000000000023" height="11.500000000000018" fill="#bdbdbd" stroke="none" stroke-width="1" shape-rendering="crispEdges"/>
<rect x="427.9" y="257.3" width="23.400000000000023" height="11.49999999999999" fill="#bdbdbd" stroke="none" stroke-width="1" shape-rendering="crispEdges"/>
<rect x="427.9" y="211.9" width="23.400000000000023" height="11.599999999999984" fill="#bdbdbd" stroke="none" stroke-width="1" shape-rendering="crispEdges"/>
<rect x="427.9" y="268.5" width="23.400000000000023" height="11.600000000000012" fill="#bdbdbd" stroke="none" stroke-width="1" shape-rendering="crispEdges"/>
<rect x="427.9" y="223.2" width="23.400000000000023" height="11.600000000000012" fill="#bdbdbd" stroke="none" stroke-width="1" shape-rendering="crispEdges"/>
<rect x="427.9" y="279.8" width="23.400000000000023" height="11.49999999999999" fill="#eab4b4" stroke="none" stroke-width="1" shape-rendering="crispEdges"/>
<rect x="427.9" y="234.5" width="23.400000000000023" height="11.100000000000012" fill="#bdbdbd" stroke="none" stroke-width="1" shape-rendering="crispEdges"/>
<rect x="427.9" y="291.0" width="23.400000000000023" height="11.3" fill="#c5d7ee" stroke="none" stroke-width="1" shape-rendering="crispEdges"/>
<rect x="451.0" y="200.7" width="22.699999999999978" height="11.500000000000018" fill="#5087d2" stroke="none" stroke-width="1" shape-rendering="crispEdges"/>
<rect x="451.0" y="257.3" width="22.699999999999978" height="11.49999999999999" fill="#5087d2" stroke="none" stroke-width="1" shape-rendering="crispEdges"/>
<rect x="451.0" y="211.9" width="22.699999999999978" height="11.599999999999984" fill="#c6c2c2" stroke="none" stroke-width="1" shape-rendering="crispEdges"/>
<rect x="451.0" y="268.5" width="22.699999999999978" height="11.600000000000012" fill="#5087d2" stroke="none" stroke-width="1" shape-rendering="crispEdges"/>
<rect x="451.0" y="223.2" width="22.699999999999978" height="11.600000000000012" fill="#5087d2" stroke="none" stroke-width="1" shape-rendering="crispEdges"/>
<rect x="451.0" y="279.8" width="22.699999999999978" height="11.49999999999999" fill="#5087d2" stroke="none" stroke-width="1" shape-rendering="crispEdges"/>
<rect x="451.0" y="234.5" width="22.699999999999978" height="11.100000000000012" fill="#c6c2c2" stroke="none" stroke-width="1" shape-rendering="crispEdges"/>
<rect x="451.0" y="291.0" width="22.699999999999978" height="11.3" fill="#5087d2" stroke="none" stroke-width="1" shape-rendering="crispEdges"/>
<rect x="473.4" y="200.7" width="21.900000000000023" height="11.500000000000018" fill="#5087d2" stroke="none" stroke-width="1" shape-rendering="crispEdges"/>
<rect x="473.4" y="257.3" width="21.900000000000023" height="11.49999999999999" fill="#5087d2" stroke="none" stroke-width="1" shape-rendering="crispEdges"/>
<rect x="473.4" y="211.9" width="21.900000000000023" height="11.599999999999984" fill="#5087d2" stroke="none" stroke-width="1" shape-rendering="crispEdges"/>
<rect x="473.4" y="268.5" width="21.900000000000023" height="11.600000000000012" fill="#5087d2" stroke="none" stroke-width="1" shape-rendering="crispEdges"/>
<rect x="473.4" y="223.2" width="21.900000000000023" height="11.600000000000012" fill="#5087d2" stroke="none" stroke-width="1" shape-rendering="crispEdges"/>
<rect x="473.4" y="279.8" width="21.900000000000023" height="11.49999999999999" fill="#5087d2" stroke="none" stroke-width="1" shape-rendering="crispEdges"/>
<rect x="473.4" y="234.5" width="21.900000000000023" height="11.100000000000012" fill="#5087d2" stroke="none" stroke-width="1" shape-rendering="crispEdges"/>
<rect x="473.4" y="291.0" width="21.900000000000023" height="11.3" fill="#5087d2" stroke="none" stroke-width="1" shape-rendering="crispEdges"/>
<rect x="496.6" y="200.7" width="21.3" height="11.500000000000018" fill="#3b669f" stroke="none" stroke-width="1" shape-rendering="crispEdges"/>
<rect x="496.6" y="257.3" width="21.3" height="11.49999999999999" fill="#3b669f" stroke="none" stroke-width="1" shape-rendering="crispEdges"/>
<rect x="496.6" y="211.9" width="21.3" height="11.599999999999984" fill="#3b669f" stroke="none" stroke-width="1" shape-rendering="crispEdges"/>
<rect x="496.6" y="268.5" width="21.3" height="11.600000000000012" fill="#3b669f" stroke="none" stroke-width="1" shape-rendering="crispEdges"/>
<rect x="496.6" y="223.2" width="21.3" height="11.600000000000012" fill="#3b669f" stroke="none" stroke-width="1" shape-rendering="crispEdges"/>
<rect x="496.6" y="279.8" width="21.3" height="11.49999999999999" fill="#3b669f" stroke="none" stroke-width="1" shape-rendering="crispEdges"/>
<rect x="496.6" y="234.5" width="21.3" height="11.100000000000012" fill="#5087d2" stroke="none" stroke-width="1" shape-rendering="crispEdges"/>
<rect x="496.6" y="291.0" width="21.3" height="11.3" fill="#5087d2" stroke="none" stroke-width="1" shape-rendering="crispEdges"/>
<rect x="405.2" y="302.6" width="22.8" height="11.099999999999955" fill="#d6d6d6" stroke="none" stroke-width="1" shape-rendering="crispEdges"/>
<rect x="405.2" y="313.4" width="22.8" height="11.100000000000012" fill="#d6d6d6" stroke="none" stroke-width="1" shape-rendering="crispEdges"/>
<rect x="427.7" y="302.6" width="22.900000000000023" height="11.099999999999955" fill="#bdbdbd" stroke="none" stroke-width="1" shape-rendering="crispEdges"/>
<rect x="427.7" y="313.4" width="22.900000000000023" height="11.100000000000012" fill="#bdbdbd" stroke="none" stroke-width="1" shape-rendering="crispEdges"/>
<rect x="450.3" y="302.6" width="23.399999999999967" height="11.099999999999955" fill="#d2e1f5" stroke="none" stroke-width="1" shape-rendering="crispEdges"/>
<rect x="450.3" y="313.4" width="23.399999999999967" height="11.100000000000012" fill="#f0c4bc" stroke="none" stroke-width="1" shape-rendering="crispEdges"/>
<rect x="473.4" y="302.6" width="22.700000000000035" height="11.099999999999955" fill="#5a8ad0" stroke="none" stroke-width="1" shape-rendering="crispEdges"/>
<rect x="473.4" y="313.4" width="22.700000000000035" height="11.100000000000012" fill="#e8968f" stroke="none" stroke-width="1" shape-rendering="crispEdges"/>
<rect x="495.8" y="302.6" width="22.100000000000012" height="11.099999999999955" fill="#41689f" stroke="none" stroke-width="1" shape-rendering="crispEdges"/>
<rect x="495.8" y="313.4" width="22.100000000000012" height="11.100000000000012" fill="#b9413a" stroke="none" stroke-width="1" shape-rendering="crispEdges"/>
<text x="417.0" y="310.0" font-size="5.6" font-weight="bold" text-anchor="middle" fill="#000" textLength="20.0" lengthAdjust="spacingAndGlyphs" stroke="#000" stroke-width="0.15">baseline</text>
<text x="439.8" y="311.6" font-size="8.8" font-weight="bold" text-anchor="middle" fill="#000" textLength="8.4" lengthAdjust="spacingAndGlyphs" stroke="#000" stroke-width="0.15">ns</text>
<text x="417.0" y="320.79999999999995" font-size="5.6" font-weight="bold" text-anchor="middle" fill="#000" textLength="20.0" lengthAdjust="spacingAndGlyphs" stroke="#000" stroke-width="0.15">baseline</text>
<text x="439.8" y="322.4" font-size="8.8" font-weight="bold" text-anchor="middle" fill="#000" textLength="8.4" lengthAdjust="spacingAndGlyphs" stroke="#000" stroke-width="0.15">ns</text>
<circle cx="462.30" cy="305.70" r="1.1" fill="#000"/>
<circle cx="482.30" cy="305.70" r="1.1" fill="#000"/>
<circle cx="486.10" cy="305.70" r="1.1" fill="#000"/>
<circle cx="504.50" cy="305.70" r="1.1" fill="#000"/>
<circle cx="507.90" cy="305.70" r="1.1" fill="#000"/>
<circle cx="511.30" cy="305.70" r="1.1" fill="#000"/>
<circle cx="462.30" cy="316.70" r="1.1" fill="#000"/>
<circle cx="482.30" cy="316.70" r="1.1" fill="#000"/>
<circle cx="486.10" cy="316.70" r="1.1" fill="#000"/>
<circle cx="504.50" cy="316.70" r="1.1" fill="#000"/>
<circle cx="507.90" cy="316.70" r="1.1" fill="#000"/>
<circle cx="511.30" cy="316.70" r="1.1" fill="#000"/>
<line x1="337.9" y1="158.7" x2="518.8" y2="158.7" stroke="#000" stroke-width="1.3"/>
<line x1="337.9" y1="169.2" x2="495.8" y2="169.2" stroke="#000" stroke-width="1.3"/>
<line x1="306.9" y1="189.2" x2="518.8" y2="189.2" stroke="#000" stroke-width="1.3"/>
<line x1="306.9" y1="245.6" x2="518.8" y2="245.6" stroke="#000" stroke-width="1.3"/>
<line x1="306.9" y1="302.3" x2="518.8" y2="302.3" stroke="#000" stroke-width="1.3"/>
<line x1="306.9" y1="324.6" x2="518.8" y2="324.6" stroke="#000" stroke-width="1.3"/>
<line x1="337.9" y1="158.1" x2="337.9" y2="302.3" stroke="#000" stroke-width="1.3"/>
<line x1="405.5" y1="158.1" x2="405.5" y2="302.3" stroke="#000" stroke-width="1.3"/>
<line x1="495.8" y1="158.1" x2="495.8" y2="302.3" stroke="#000" stroke-width="1.3"/>
<line x1="518.2" y1="158.1" x2="518.2" y2="325.2" stroke="#000" stroke-width="1.3"/>
<line x1="306.9" y1="188.6" x2="306.9" y2="325.2" stroke="#000" stroke-width="1.3"/>
<text x="372.3" y="166.3" font-size="7.8" font-weight="bold" text-anchor="middle" fill="#000" textLength="11.8" lengthAdjust="spacingAndGlyphs" stroke="#000" stroke-width="0.15">WT</text>
<text x="450.6" y="166.3" font-size="7.8" font-weight="bold" text-anchor="middle" fill="#000" textLength="19.0" lengthAdjust="spacingAndGlyphs" stroke="#000" stroke-width="0.15">TCL1</text>
<text x="349.8" y="177.5" font-size="7.8" font-weight="bold" text-anchor="middle" fill="#000" stroke="#000" stroke-width="0.15">3mo</text>
<text x="349.8" y="187.0" font-size="7.8" font-weight="bold" text-anchor="middle" fill="#000" stroke="#000" stroke-width="0.15">hBC</text>
<text x="371.35" y="177.5" font-size="7.8" font-weight="bold" text-anchor="middle" fill="#000" stroke="#000" stroke-width="0.15">6mo</text>
<text x="371.35" y="187.0" font-size="7.8" font-weight="bold" text-anchor="middle" fill="#000" stroke="#000" stroke-width="0.15">hBC</text>
<text x="393.75" y="177.5" font-size="7.8" font-weight="bold" text-anchor="middle" fill="#000" stroke="#000" stroke-width="0.15">12mo</text>
<text x="393.75" y="187.0" font-size="7.8" font-weight="bold" text-anchor="middle" fill="#000" stroke="#000" stroke-width="0.15">hBC</text>
<text x="417.04999999999995" y="177.5" font-size="7.8" font-weight="bold" text-anchor="middle" fill="#000" stroke="#000" stroke-width="0.15">3mo</text>
<text x="417.04999999999995" y="187.0" font-size="7.8" font-weight="bold" text-anchor="middle" fill="#000" stroke="#000" stroke-width="0.15">hBC</text>
<text x="439.45" y="177.5" font-size="7.8" font-weight="bold" text-anchor="middle" fill="#000" stroke="#000" stroke-width="0.15">6mo</text>
<text x="439.45" y="187.0" font-size="7.8" font-weight="bold" text-anchor="middle" fill="#000" stroke="#000" stroke-width="0.15">hBC</text>
<text x="462.2" y="177.5" font-size="7.8" font-weight="bold" text-anchor="middle" fill="#000" stroke="#000" stroke-width="0.15">6mo</text>
<text x="462.2" y="187.0" font-size="7.8" font-weight="bold" text-anchor="middle" fill="#000" stroke="#000" stroke-width="0.15">CLL</text>
<text x="484.2" y="177.5" font-size="7.8" font-weight="bold" text-anchor="middle" fill="#000" stroke="#000" stroke-width="0.15">12mo</text>
<text x="484.2" y="187.0" font-size="7.8" font-weight="bold" text-anchor="middle" fill="#000" stroke="#000" stroke-width="0.15">CLL</text>
<text x="507.90000000000003" y="177.5" font-size="7.8" font-weight="bold" text-anchor="middle" fill="#000" stroke="#000" stroke-width="0.15">AT</text>
<text x="507.90000000000003" y="187.0" font-size="7.8" font-weight="bold" text-anchor="middle" fill="#000" stroke="#000" stroke-width="0.15">CLL</text>
<text x="309.2" y="198.2" font-size="7.6" font-weight="bold" text-anchor="start" fill="#000" stroke="#000" stroke-width="0.15">PD-L1</text>
<text x="309.2" y="209.3" font-size="7.6" font-weight="bold" text-anchor="start" fill="#000" stroke="#000" stroke-width="0.15">spleen</text>
<text x="309.2" y="220.5" font-size="7.6" font-weight="bold" text-anchor="start" fill="#000" stroke="#000" stroke-width="0.15">PB</text>
<text x="309.2" y="231.7" font-size="7.6" font-weight="bold" text-anchor="start" fill="#000" stroke="#000" stroke-width="0.15">BM</text>
<text x="309.2" y="242.9" font-size="7.6" font-weight="bold" text-anchor="start" fill="#000" stroke="#000" stroke-width="0.15">LN</text>
<text x="309.2" y="254.6" font-size="7.6" font-weight="bold" text-anchor="start" fill="#000" stroke="#000" stroke-width="0.15">PDL2</text>
<text x="309.2" y="265.8" font-size="7.6" font-weight="bold" text-anchor="start" fill="#000" stroke="#000" stroke-width="0.15">spleen</text>
<text x="309.2" y="277.0" font-size="7.6" font-weight="bold" text-anchor="start" fill="#000" stroke="#000" stroke-width="0.15">PB</text>
<text x="309.2" y="288.2" font-size="7.6" font-weight="bold" text-anchor="start" fill="#000" stroke="#000" stroke-width="0.15">BM</text>
<text x="309.2" y="299.4" font-size="7.6" font-weight="bold" text-anchor="start" fill="#000" stroke="#000" stroke-width="0.15">LN</text>
<text x="308.8" y="311.8" font-size="7.6" font-weight="bold" text-anchor="start" fill="#000" textLength="27.0" lengthAdjust="spacingAndGlyphs" stroke="#000" stroke-width="0.15">p-value</text>
<text x="308.8" y="322.3" font-size="7.6" font-weight="bold" text-anchor="start" fill="#000" textLength="26.5" lengthAdjust="spacingAndGlyphs" stroke="#000" stroke-width="0.15">legend:</text>
<text x="374.0" y="311.2" font-size="8.4" font-weight="bold" text-anchor="middle" fill="#2f62ad" textLength="47.7" lengthAdjust="spacingAndGlyphs" stroke="#2f62ad" stroke-width="0.15">MFI increase</text>
<text x="374.4" y="322.4" font-size="8.4" font-weight="bold" text-anchor="middle" fill="#cc3d24" textLength="49.6" lengthAdjust="spacingAndGlyphs" stroke="#cc3d24" stroke-width="0.15">MFI decrease</text>
<text x="1.8" y="346.9" font-size="10.4" font-weight="bold" text-anchor="start" fill="#000" stroke="#000" stroke-width="0.15">F</text>
<line x1="57.6" y1="358.0" x2="57.6" y2="457.8" stroke="#000" stroke-width="1.2"/>
<line x1="57.0" y1="457.2" x2="158.0" y2="457.2" stroke="#000" stroke-width="1.2"/>
<line x1="55.3" y1="457.2" x2="57.6" y2="457.2" stroke="#000" stroke-width="1.0"/>
<text x="55.0" y="459.59999999999997" font-size="7.0" font-weight="bold" text-anchor="end" fill="#000" stroke="#000" stroke-width="0.15">0</text>
<line x1="55.3" y1="437.5" x2="57.6" y2="437.5" stroke="#000" stroke-width="1.0"/>
<text x="55.0" y="439.9" font-size="7.0" font-weight="bold" text-anchor="end" fill="#000" stroke="#000" stroke-width="0.15">20</text>
<line x1="55.3" y1="417.8" x2="57.6" y2="417.8" stroke="#000" stroke-width="1.0"/>
<text x="55.0" y="420.2" font-size="7.0" font-weight="bold" text-anchor="end" fill="#000" stroke="#000" stroke-width="0.15">40</text>
<line x1="55.3" y1="398.09999999999997" x2="57.6" y2="398.09999999999997" stroke="#000" stroke-width="1.0"/>
<text x="55.0" y="400.49999999999994" font-size="7.0" font-weight="bold" text-anchor="end" fill="#000" stroke="#000" stroke-width="0.15">60</text>
<line x1="55.3" y1="378.4" x2="57.6" y2="378.4" stroke="#000" stroke-width="1.0"/>
<text x="55.0" y="380.79999999999995" font-size="7.0" font-weight="bold" text-anchor="end" fill="#000" stroke="#000" stroke-width="0.15">80</text>
<line x1="55.3" y1="358.7" x2="57.6" y2="358.7" stroke="#000" stroke-width="1.0"/>
<text x="55.0" y="361.09999999999997" font-size="7.0" font-weight="bold" text-anchor="end" fill="#000" stroke="#000" stroke-width="0.15">100</text>
<rect x="60.7" y="390.614" width="9.799999999999997" height="66.58600000000001" fill="#d9d9d9" stroke="#151515" stroke-width="1.05"/>
<rect x="60.7" y="358.7" width="9.799999999999997" height="31.913999999999987" fill="#7f7f7f" stroke="#151515" stroke-width="1.05"/>
<rect x="75.0" y="394.35699999999997" width="9.799999999999997" height="62.84300000000002" fill="#d9d9d9" stroke="#151515" stroke-width="1.05"/>
<rect x="75.0" y="358.7" width="9.799999999999997" height="35.65699999999998" fill="#7f7f7f" stroke="#151515" stroke-width="1.05"/>
<rect x="89.2" y="435.23449999999997" width="9.700000000000003" height="21.96550000000002" fill="#d9d9d9" stroke="#151515" stroke-width="1.05"/>
<rect x="89.2" y="431.59" width="9.700000000000003" height="3.6444999999999936" fill="url(#chk)" stroke="#151515" stroke-width="1.05"/>
<rect x="89.2" y="370.6185" width="9.700000000000003" height="60.97149999999999" fill="#7f7f7f" stroke="#151515" stroke-width="1.05"/>
<rect x="89.2" y="358.7" width="9.700000000000003" height="11.918499999999995" fill="url(#chk)" stroke="#151515" stroke-width="1.05"/>
<rect x="103.5" y="385.68899999999996" width="9.599999999999994" height="71.51100000000002" fill="#d9d9d9" stroke="#151515" stroke-width="1.05"/>
<rect x="103.5" y="358.7" width="9.599999999999994" height="26.988999999999976" fill="#7f7f7f" stroke="#151515" stroke-width="1.05"/>
<rect x="117.5" y="407.2605" width="9.599999999999994" height="49.93950000000001" fill="#d9d9d9" stroke="#151515" stroke-width="1.05"/>
<rect x="117.5" y="358.7" width="9.599999999999994" height="48.56049999999999" fill="#7f7f7f" stroke="#151515" stroke-width="1.05"/>
<rect x="131.7" y="451.48699999999997" width="9.700000000000017" height="5.713000000000022" fill="#d9d9d9" stroke="#151515" stroke-width="1.05"/>
<rect x="131.7" y="445.4785" width="9.700000000000017" height="6.0084999999999695" fill="url(#chk)" stroke="#151515" stroke-width="1.05"/>
<rect x="131.7" y="381.05949999999996" width="9.700000000000017" height="64.41900000000004" fill="#7f7f7f" stroke="#151515" stroke-width="1.05"/>
<rect x="131.7" y="358.7" width="9.700000000000017" height="22.35949999999997" fill="url(#chk)" stroke="#151515" stroke-width="1.05"/>
<rect x="146.0" y="442.1295" width="9.599999999999994" height="15.070499999999981" fill="#d9d9d9" stroke="#151515" stroke-width="1.05"/>
<rect x="146.0" y="367.959" width="9.599999999999994" height="74.1705" fill="#7f7f7f" stroke="#151515" stroke-width="1.05"/>
<rect x="146.0" y="358.7" width="9.599999999999994" height="9.259000000000015" fill="url(#chk)" stroke="#151515" stroke-width="1.05"/>
<line x1="65.6" y1="457.2" x2="65.6" y2="459.8" stroke="#000" stroke-width="1.0"/>
<text transform="translate(67.19999999999999,468.6) rotate(-45)" font-size="8.2" font-weight="bold" text-anchor="end" fill="#000" stroke="#000" stroke-width="0.15">3mo</text>
<line x1="79.9" y1="457.2" x2="79.9" y2="459.8" stroke="#000" stroke-width="1.0"/>
<text transform="translate(81.5,468.6) rotate(-45)" font-size="8.2" font-weight="bold" text-anchor="end" fill="#000" stroke="#000" stroke-width="0.15">6mo</text>
<line x1="94.05000000000001" y1="457.2" x2="94.05000000000001" y2="459.8" stroke="#000" stroke-width="1.0"/>
<text transform="translate(95.65,468.6) rotate(-45)" font-size="8.2" font-weight="bold" text-anchor="end" fill="#000" stroke="#000" stroke-width="0.15">12mo</text>
<line x1="108.3" y1="457.2" x2="108.3" y2="459.8" stroke="#000" stroke-width="1.0"/>
<text transform="translate(109.89999999999999,468.6) rotate(-45)" font-size="8.2" font-weight="bold" text-anchor="end" fill="#000" stroke="#000" stroke-width="0.15">3mo</text>
<line x1="122.3" y1="457.2" x2="122.3" y2="459.8" stroke="#000" stroke-width="1.0"/>
<text transform="translate(123.89999999999999,468.6) rotate(-45)" font-size="8.2" font-weight="bold" text-anchor="end" fill="#000" stroke="#000" stroke-width="0.15">6mo</text>
<line x1="136.55" y1="457.2" x2="136.55" y2="459.8" stroke="#000" stroke-width="1.0"/>
<text transform="translate(138.15,468.6) rotate(-45)" font-size="8.2" font-weight="bold" text-anchor="end" fill="#000" stroke="#000" stroke-width="0.15">12mo</text>
<line x1="150.8" y1="457.2" x2="150.8" y2="459.8" stroke="#000" stroke-width="1.0"/>
<text transform="translate(152.4,468.6) rotate(-45)" font-size="8.2" font-weight="bold" text-anchor="end" fill="#000" stroke="#000" stroke-width="0.15">AT</text>
<text x="80.4" y="354.5" font-size="9.0" font-weight="bold" text-anchor="middle" fill="#000" textLength="13.7" lengthAdjust="spacingAndGlyphs" stroke="#000" stroke-width="0.15">WT</text>
<text x="130.3" y="354.5" font-size="9.0" font-weight="bold" text-anchor="middle" fill="#000" textLength="41.0" lengthAdjust="spacingAndGlyphs" stroke="#000" stroke-width="0.15">E&#956;-TCL1</text>
<path d="M157.1,362.8 L162.4,360.3 L162.4,365.3 Z" fill="#000"/>
<line x1="162.0" y1="362.8" x2="164.8" y2="362.8" stroke="#000" stroke-width="1.5"/>
<text x="166.0" y="365.7" font-size="8.0" font-weight="bold" text-anchor="start" fill="#000" stroke="#000" stroke-width="0.15">PD-1<tspan baseline-shift="super" font-size="62%">+</tspan></text>
<path d="M157.1,399.6 L162.4,397.1 L162.4,402.1 Z" fill="#000"/>
<line x1="162.0" y1="399.6" x2="164.8" y2="399.6" stroke="#000" stroke-width="1.5"/>
<text x="166.0" y="402.5" font-size="8.0" font-weight="bold" text-anchor="start" fill="#000" stroke="#000" stroke-width="0.15">PD-1<tspan baseline-shift="super" font-size="62%">&#8211;</tspan></text>
<path d="M157.1,442.0 L162.4,439.5 L162.4,444.5 Z" fill="#000"/>
<line x1="162.0" y1="442.0" x2="164.8" y2="442.0" stroke="#000" stroke-width="1.5"/>
<text x="166.0" y="444.9" font-size="8.0" font-weight="bold" text-anchor="start" fill="#000" stroke="#000" stroke-width="0.15">PD-1<tspan baseline-shift="super" font-size="62%">+</tspan></text>
<path d="M157.1,452.6 L162.4,450.1 L162.4,455.1 Z" fill="#000"/>
<line x1="162.0" y1="452.6" x2="164.8" y2="452.6" stroke="#000" stroke-width="1.5"/>
<text x="166.0" y="455.5" font-size="8.0" font-weight="bold" text-anchor="start" fill="#000" stroke="#000" stroke-width="0.15">PD-1<tspan baseline-shift="super" font-size="62%">&#8211;</tspan></text>
<text x="24.0" y="366.2" font-size="8.0" font-weight="bold" text-anchor="middle" fill="#222" stroke="#222" stroke-width="0.15">Ag-exp.</text>
<text x="24.0" y="376.6" font-size="8.0" font-weight="bold" text-anchor="middle" fill="#222" stroke="#222" stroke-width="0.15">CD8 T cells</text>
<text x="24.0" y="388.6" font-size="8.0" font-weight="bold" text-anchor="middle" fill="#222" stroke="#222" stroke-width="0.15">(%CD44<tspan baseline-shift="super" font-size="62%">+</tspan>/</text>
<text x="24.0" y="399.3" font-size="8.0" font-weight="bold" text-anchor="middle" fill="#222" stroke="#222" stroke-width="0.15">CD3<tspan baseline-shift="super" font-size="62%">+</tspan>CD8<tspan baseline-shift="super" font-size="62%">+</tspan>)</text>
<text x="24.0" y="423.8" font-size="8.0" font-weight="bold" text-anchor="middle" fill="#222" stroke="#222" stroke-width="0.15">Naive</text>
<text x="24.0" y="434.0" font-size="8.0" font-weight="bold" text-anchor="middle" fill="#222" stroke="#222" stroke-width="0.15">CD8 T cells</text>
<text x="24.0" y="444.4" font-size="8.0" font-weight="bold" text-anchor="middle" fill="#222" stroke="#222" stroke-width="0.15">(%CD44<tspan baseline-shift="super" font-size="62%">&#8211;</tspan>/</text>
<text x="24.0" y="455.2" font-size="8.0" font-weight="bold" text-anchor="middle" fill="#222" stroke="#222" stroke-width="0.15">CD3<tspan baseline-shift="super" font-size="62%">+</tspan>CD8<tspan baseline-shift="super" font-size="62%">+</tspan>)</text>
<text x="201.8" y="346.2" font-size="10.2" font-weight="bold" text-anchor="start" fill="#000" stroke="#000" stroke-width="0.15">G</text>
<line x1="244.3" y1="359.4" x2="244.3" y2="457.9" stroke="#000" stroke-width="1.2"/>
<line x1="243.7" y1="457.3" x2="340.0" y2="457.3" stroke="#000" stroke-width="1.2"/>
<line x1="242.0" y1="457.3" x2="244.3" y2="457.3" stroke="#000" stroke-width="1.1"/>
<text x="242.0" y="460.1" font-size="7.9" font-weight="bold" text-anchor="end" fill="#000" stroke="#000" stroke-width="0.15">0</text>
<line x1="242.0" y1="441.1" x2="244.3" y2="441.1" stroke="#000" stroke-width="1.1"/>
<text x="242.0" y="443.90000000000003" font-size="7.9" font-weight="bold" text-anchor="end" fill="#000" stroke="#000" stroke-width="0.15">10</text>
<line x1="242.0" y1="424.9" x2="244.3" y2="424.9" stroke="#000" stroke-width="1.1"/>
<text x="242.0" y="427.7" font-size="7.9" font-weight="bold" text-anchor="end" fill="#000" stroke="#000" stroke-width="0.15">20</text>
<line x1="242.0" y1="408.7" x2="244.3" y2="408.7" stroke="#000" stroke-width="1.1"/>
<text x="242.0" y="411.5" font-size="7.9" font-weight="bold" text-anchor="end" fill="#000" stroke="#000" stroke-width="0.15">30</text>
<line x1="242.0" y1="392.5" x2="244.3" y2="392.5" stroke="#000" stroke-width="1.1"/>
<text x="242.0" y="395.3" font-size="7.9" font-weight="bold" text-anchor="end" fill="#000" stroke="#000" stroke-width="0.15">40</text>
<line x1="242.0" y1="376.3" x2="244.3" y2="376.3" stroke="#000" stroke-width="1.1"/>
<text x="242.0" y="379.1" font-size="7.9" font-weight="bold" text-anchor="end" fill="#000" stroke="#000" stroke-width="0.15">50</text>
<line x1="242.0" y1="360.1" x2="244.3" y2="360.1" stroke="#000" stroke-width="1.1"/>
<text x="242.0" y="362.90000000000003" font-size="7.9" font-weight="bold" text-anchor="end" fill="#000" stroke="#000" stroke-width="0.15">60</text>
<line x1="250.0" y1="457.3" x2="250.0" y2="459.8" stroke="#000" stroke-width="1.0"/>
<text transform="translate(251.6,468.6) rotate(-45)" font-size="8.2" font-weight="bold" text-anchor="end" fill="#000" stroke="#000" stroke-width="0.15">3mo</text>
<line x1="264.3" y1="457.3" x2="264.3" y2="459.8" stroke="#000" stroke-width="1.0"/>
<text transform="translate(265.90000000000003,468.6) rotate(-45)" font-size="8.2" font-weight="bold" text-anchor="end" fill="#000" stroke="#000" stroke-width="0.15">6mo</text>
<line x1="278.8" y1="457.3" x2="278.8" y2="459.8" stroke="#000" stroke-width="1.0"/>
<text transform="translate(280.40000000000003,468.6) rotate(-45)" font-size="8.2" font-weight="bold" text-anchor="end" fill="#000" stroke="#000" stroke-width="0.15">12mo</text>
<line x1="292.6" y1="457.3" x2="292.6" y2="459.8" stroke="#000" stroke-width="1.0"/>
<text transform="translate(294.20000000000005,468.6) rotate(-45)" font-size="8.2" font-weight="bold" text-anchor="end" fill="#000" stroke="#000" stroke-width="0.15">3mo</text>
<line x1="307.0" y1="457.3" x2="307.0" y2="459.8" stroke="#000" stroke-width="1.0"/>
<text transform="translate(308.6,468.6) rotate(-45)" font-size="8.2" font-weight="bold" text-anchor="end" fill="#000" stroke="#000" stroke-width="0.15">6mo</text>
<line x1="321.3" y1="457.3" x2="321.3" y2="459.8" stroke="#000" stroke-width="1.0"/>
<text transform="translate(322.90000000000003,468.6) rotate(-45)" font-size="8.2" font-weight="bold" text-anchor="end" fill="#000" stroke="#000" stroke-width="0.15">12mo</text>
<line x1="334.3" y1="457.3" x2="334.3" y2="459.8" stroke="#000" stroke-width="1.0"/>
<text transform="translate(335.90000000000003,468.6) rotate(-45)" font-size="8.2" font-weight="bold" text-anchor="end" fill="#000" stroke="#000" stroke-width="0.15">AT</text>
<text x="261.8" y="352.1" font-size="9.0" font-weight="bold" text-anchor="middle" fill="#000" textLength="13.4" lengthAdjust="spacingAndGlyphs" stroke="#000" stroke-width="0.15">WT</text>
<text x="317.3" y="352.1" font-size="9.0" font-weight="bold" text-anchor="middle" fill="#000" textLength="39.2" lengthAdjust="spacingAndGlyphs" stroke="#000" stroke-width="0.15">E&#956;-TCL1</text>
<text transform="translate(213.8,408.3) rotate(-90)" font-size="9.4" font-weight="normal" text-anchor="middle" fill="#000" textLength="61.6" lengthAdjust="spacingAndGlyphs" stroke="#000" stroke-width="0.22">spleen %PD1<tspan baseline-shift="super" font-size="62%">+</tspan></text>
<text transform="translate(227.3,408.6) rotate(-90)" font-size="9.4" font-weight="normal" text-anchor="middle" fill="#000" textLength="73.0" lengthAdjust="spacingAndGlyphs" stroke="#000" stroke-width="0.22">CD3<tspan baseline-shift="super" font-size="62%">+</tspan>CD8<tspan baseline-shift="super" font-size="62%">+</tspan>CD44<tspan baseline-shift="super" font-size="62%">+</tspan></text>
<path d="M247.2,365.2 L247.2,363.0 L277.2,363.0 L277.2,365.2" fill="none" stroke="#333" stroke-width="1.1"/>
<path d="M247.2,370.5 L247.2,368.3 L262.8,368.3 L262.8,370.5" fill="none" stroke="#333" stroke-width="1.1"/>
<path d="M292.4,360.5 L292.4,358.3 L338.2,358.3 L338.2,360.5" fill="none" stroke="#333" stroke-width="1.1"/>
<path d="M292.4,365.5 L292.4,363.3 L322.6,363.3 L322.6,365.5" fill="none" stroke="#333" stroke-width="1.1"/>
<path d="M292.4,370.4 L292.4,368.2 L308.5,368.2 L308.5,370.4" fill="none" stroke="#333" stroke-width="1.1"/>
<circle cx="279.90" cy="363.70" r="1.45" fill="#000"/>
<circle cx="265.20" cy="369.10" r="1.45" fill="#000"/>
<circle cx="340.50" cy="359.20" r="1.45" fill="#000"/>
<circle cx="344.60" cy="359.20" r="1.45" fill="#000"/>
<circle cx="324.70" cy="364.10" r="1.45" fill="#000"/>
<circle cx="328.80" cy="364.10" r="1.45" fill="#000"/>
<circle cx="310.30" cy="369.00" r="1.45" fill="#000"/>
<circle cx="247.66" cy="456.49" r="1.55" fill="#000"/>
<circle cx="252.22" cy="455.68" r="1.55" fill="#000"/>
<circle cx="251.69" cy="454.87" r="1.55" fill="#000"/>
<circle cx="248.43" cy="454.06" r="1.55" fill="#000"/>
<circle cx="249.97" cy="453.25" r="1.55" fill="#000"/>
<circle cx="249.68" cy="452.44" r="1.55" fill="#000"/>
<circle cx="250.97" cy="455.68" r="1.55" fill="#000"/>
<circle cx="251.85" cy="456.81" r="1.55" fill="#000"/>
<circle cx="247.40" cy="453.74" r="1.55" fill="#000"/>
<circle cx="246.98" cy="454.55" r="1.55" fill="#000"/>
<circle cx="267.22" cy="456.49" r="1.55" fill="#000"/>
<circle cx="267.17" cy="455.68" r="1.55" fill="#000"/>
<circle cx="261.46" cy="454.87" r="1.55" fill="#000"/>
<circle cx="261.64" cy="454.06" r="1.55" fill="#000"/>
<circle cx="266.45" cy="453.25" r="1.55" fill="#000"/>
<circle cx="265.81" cy="452.44" r="1.55" fill="#000"/>
<circle cx="265.39" cy="451.63" r="1.55" fill="#000"/>
<circle cx="263.07" cy="455.36" r="1.55" fill="#000"/>
<circle cx="264.98" cy="452.76" r="1.55" fill="#000"/>
<circle cx="264.98" cy="456.00" r="1.55" fill="#000"/>
<circle cx="277.12" cy="431.38" r="1.55" fill="#000"/>
<circle cx="279.08" cy="431.38" r="1.55" fill="#000"/>
<circle cx="277.97" cy="433.00" r="1.55" fill="#000"/>
<circle cx="279.47" cy="432.19" r="1.55" fill="#000"/>
<circle cx="279.60" cy="434.62" r="1.55" fill="#000"/>
<circle cx="276.02" cy="436.24" r="1.55" fill="#000"/>
<circle cx="275.68" cy="437.86" r="1.55" fill="#000"/>
<circle cx="280.96" cy="439.48" r="1.55" fill="#000"/>
<circle cx="277.26" cy="441.10" r="1.55" fill="#000"/>
<circle cx="277.10" cy="442.72" r="1.55" fill="#000"/>
<circle cx="281.97" cy="445.96" r="1.55" fill="#000"/>
<circle cx="278.61" cy="447.58" r="1.55" fill="#000"/>
<circle cx="280.95" cy="449.20" r="1.55" fill="#000"/>
<circle cx="278.65" cy="450.01" r="1.55" fill="#000"/>
<circle cx="279.69" cy="437.05" r="1.55" fill="#000"/>
<line x1="272.8" y1="438.67" x2="284.8" y2="438.67" stroke="#000" stroke-width="1.0"/>
<circle cx="290.91" cy="456.81" r="1.55" fill="#000"/>
<circle cx="290.06" cy="456.33" r="1.55" fill="#000"/>
<circle cx="291.93" cy="455.68" r="1.55" fill="#000"/>
<circle cx="290.39" cy="455.19" r="1.55" fill="#000"/>
<circle cx="289.83" cy="456.00" r="1.55" fill="#000"/>
<circle cx="291.97" cy="456.49" r="1.55" fill="#000"/>
<circle cx="295.27" cy="455.52" r="1.55" fill="#000"/>
<circle cx="307.79" cy="456.49" r="1.55" fill="#000"/>
<circle cx="308.55" cy="455.68" r="1.55" fill="#000"/>
<circle cx="308.89" cy="454.87" r="1.55" fill="#000"/>
<circle cx="309.83" cy="454.06" r="1.55" fill="#000"/>
<circle cx="308.54" cy="455.36" r="1.55" fill="#000"/>
<circle cx="309.70" cy="456.00" r="1.55" fill="#000"/>
<circle cx="303.99" cy="436.24" r="1.55" fill="#000"/>
<circle cx="323.18" cy="381.16" r="1.55" fill="#000"/>
<circle cx="323.36" cy="402.22" r="1.55" fill="#000"/>
<circle cx="321.20" cy="423.28" r="1.55" fill="#000"/>
<circle cx="319.77" cy="424.90" r="1.55" fill="#000"/>
<circle cx="318.10" cy="445.96" r="1.55" fill="#000"/>
<circle cx="322.34" cy="452.44" r="1.55" fill="#000"/>
<circle cx="321.11" cy="453.25" r="1.55" fill="#000"/>
<circle cx="322.96" cy="454.06" r="1.55" fill="#000"/>
<circle cx="320.49" cy="454.87" r="1.55" fill="#000"/>
<circle cx="323.03" cy="416.80" r="1.55" fill="#000"/>
<line x1="321.3" y1="457.3" x2="321.3" y2="415.99" stroke="#555" stroke-width="1.0"/>
<line x1="317.8" y1="415.99" x2="324.8" y2="415.99" stroke="#555" stroke-width="1.0"/>
<line x1="315.3" y1="435.43" x2="327.3" y2="435.43" stroke="#555" stroke-width="1.0"/>
<circle cx="333.17" cy="410.32" r="1.55" fill="#000"/>
<circle cx="332.07" cy="410.32" r="1.55" fill="#000"/>
<circle cx="335.27" cy="413.56" r="1.55" fill="#000"/>
<circle cx="331.56" cy="413.56" r="1.55" fill="#000"/>
<circle cx="334.53" cy="420.04" r="1.55" fill="#000"/>
<circle cx="333.44" cy="423.28" r="1.55" fill="#000"/>
<circle cx="331.47" cy="426.52" r="1.55" fill="#000"/>
<circle cx="334.35" cy="429.76" r="1.55" fill="#000"/>
<circle cx="331.34" cy="431.38" r="1.55" fill="#000"/>
<circle cx="333.88" cy="433.00" r="1.55" fill="#000"/>
<circle cx="331.55" cy="433.81" r="1.55" fill="#000"/>
<circle cx="331.68" cy="436.24" r="1.55" fill="#000"/>
<circle cx="333.82" cy="437.86" r="1.55" fill="#000"/>
<circle cx="336.39" cy="442.72" r="1.55" fill="#000"/>
<circle cx="331.89" cy="445.96" r="1.55" fill="#000"/>
<circle cx="332.53" cy="449.20" r="1.55" fill="#000"/>
<circle cx="335.12" cy="451.63" r="1.55" fill="#000"/>
<circle cx="337.17" cy="424.90" r="1.55" fill="#000"/>
<circle cx="334.79" cy="428.14" r="1.55" fill="#000"/>
<line x1="334.3" y1="445.15000000000003" x2="334.3" y2="420.85" stroke="#555" stroke-width="1.0"/>
<line x1="331" y1="420.85" x2="337.6" y2="420.85" stroke="#555" stroke-width="1.0"/>
<line x1="331" y1="445.15000000000003" x2="337.6" y2="445.15000000000003" stroke="#555" stroke-width="1.0"/>
<line x1="328.3" y1="433.0" x2="340.3" y2="433.0" stroke="#555" stroke-width="1.0"/>
<text x="367.0" y="345.2" font-size="10.2" font-weight="bold" text-anchor="start" fill="#000" stroke="#000" stroke-width="0.15">H</text>
<line x1="412.3" y1="359.4" x2="412.3" y2="404.6" stroke="#000" stroke-width="1.3"/>
<line x1="412.3" y1="412.5" x2="412.3" y2="457.9" stroke="#000" stroke-width="1.3"/>
<line x1="409.3" y1="404.6" x2="414.2" y2="404.6" stroke="#000" stroke-width="1.2"/>
<line x1="409.3" y1="412.5" x2="414.2" y2="412.5" stroke="#000" stroke-width="1.2"/>
<line x1="412.0" y1="457.3" x2="511.0" y2="457.3" stroke="#000" stroke-width="1.2"/>
<line x1="409.5" y1="360.20000000000005" x2="412.3" y2="360.20000000000005" stroke="#000" stroke-width="1.1"/>
<text x="407.0" y="362.90000000000003" font-size="7.6" font-weight="bold" text-anchor="end" fill="#000" textLength="27.4" lengthAdjust="spacingAndGlyphs" stroke="#000" stroke-width="0.15">2.5x10<tspan baseline-shift="super" font-size="62%">8</tspan></text>
<line x1="409.5" y1="371.3" x2="412.3" y2="371.3" stroke="#000" stroke-width="1.1"/>
<text x="407.0" y="374.0" font-size="7.6" font-weight="bold" text-anchor="end" fill="#000" textLength="27.4" lengthAdjust="spacingAndGlyphs" stroke="#000" stroke-width="0.15">2.0x10<tspan baseline-shift="super" font-size="62%">8</tspan></text>
<line x1="409.5" y1="382.40000000000003" x2="412.3" y2="382.40000000000003" stroke="#000" stroke-width="1.1"/>
<text x="407.0" y="385.1" font-size="7.6" font-weight="bold" text-anchor="end" fill="#000" textLength="27.4" lengthAdjust="spacingAndGlyphs" stroke="#000" stroke-width="0.15">1.5x10<tspan baseline-shift="super" font-size="62%">8</tspan></text>
<line x1="409.5" y1="393.5" x2="412.3" y2="393.5" stroke="#000" stroke-width="1.1"/>
<text x="407.0" y="396.2" font-size="7.6" font-weight="bold" text-anchor="end" fill="#000" textLength="27.4" lengthAdjust="spacingAndGlyphs" stroke="#000" stroke-width="0.15">1.0x10<tspan baseline-shift="super" font-size="62%">8</tspan></text>
<line x1="409.5" y1="404.6" x2="412.3" y2="404.6" stroke="#000" stroke-width="1.1"/>
<text x="407.0" y="407.3" font-size="7.6" font-weight="bold" text-anchor="end" fill="#000" textLength="27.4" lengthAdjust="spacingAndGlyphs" stroke="#000" stroke-width="0.15">5.0x10<tspan baseline-shift="super" font-size="62%">7</tspan></text>
<line x1="409.5" y1="412.5" x2="412.3" y2="412.5" stroke="#000" stroke-width="1.1"/>
<text x="407.0" y="415.2" font-size="7.6" font-weight="bold" text-anchor="end" fill="#000" textLength="27.4" lengthAdjust="spacingAndGlyphs" stroke="#000" stroke-width="0.15">4.0x10<tspan baseline-shift="super" font-size="62%">7</tspan></text>
<line x1="409.5" y1="423.70000000000005" x2="412.3" y2="423.70000000000005" stroke="#000" stroke-width="1.1"/>
<text x="407.0" y="426.40000000000003" font-size="7.6" font-weight="bold" text-anchor="end" fill="#000" textLength="27.4" lengthAdjust="spacingAndGlyphs" stroke="#000" stroke-width="0.15">3.0x10<tspan baseline-shift="super" font-size="62%">7</tspan></text>
<line x1="409.5" y1="434.90000000000003" x2="412.3" y2="434.90000000000003" stroke="#000" stroke-width="1.1"/>
<text x="407.0" y="437.6" font-size="7.6" font-weight="bold" text-anchor="end" fill="#000" textLength="27.4" lengthAdjust="spacingAndGlyphs" stroke="#000" stroke-width="0.15">2.0x10<tspan baseline-shift="super" font-size="62%">7</tspan></text>
<line x1="409.5" y1="446.1" x2="412.3" y2="446.1" stroke="#000" stroke-width="1.1"/>
<text x="407.0" y="448.8" font-size="7.6" font-weight="bold" text-anchor="end" fill="#000" textLength="27.4" lengthAdjust="spacingAndGlyphs" stroke="#000" stroke-width="0.15">1.0x10<tspan baseline-shift="super" font-size="62%">7</tspan></text>
<line x1="409.5" y1="457.3" x2="412.3" y2="457.3" stroke="#000" stroke-width="1.1"/>
<text x="407.0" y="460.0" font-size="7.6" font-weight="bold" text-anchor="end" fill="#000" stroke="#000" stroke-width="0.15">0</text>
<line x1="417.4" y1="457.3" x2="417.4" y2="459.8" stroke="#000" stroke-width="1.0"/>
<text transform="translate(419.0,468.6) rotate(-45)" font-size="8.2" font-weight="bold" text-anchor="end" fill="#000" stroke="#000" stroke-width="0.15">3mo</text>
<line x1="431.8" y1="457.3" x2="431.8" y2="459.8" stroke="#000" stroke-width="1.0"/>
<text transform="translate(433.40000000000003,468.6) rotate(-45)" font-size="8.2" font-weight="bold" text-anchor="end" fill="#000" stroke="#000" stroke-width="0.15">6mo</text>
<line x1="446.0" y1="457.3" x2="446.0" y2="459.8" stroke="#000" stroke-width="1.0"/>
<text transform="translate(447.6,468.6) rotate(-45)" font-size="8.2" font-weight="bold" text-anchor="end" fill="#000" stroke="#000" stroke-width="0.15">12mo</text>
<line x1="461.1" y1="457.3" x2="461.1" y2="459.8" stroke="#000" stroke-width="1.0"/>
<text transform="translate(462.70000000000005,468.6) rotate(-45)" font-size="8.2" font-weight="bold" text-anchor="end" fill="#000" stroke="#000" stroke-width="0.15">3mo</text>
<line x1="475.6" y1="457.3" x2="475.6" y2="459.8" stroke="#000" stroke-width="1.0"/>
<text transform="translate(477.20000000000005,468.6) rotate(-45)" font-size="8.2" font-weight="bold" text-anchor="end" fill="#000" stroke="#000" stroke-width="0.15">6mo</text>
<line x1="489.7" y1="457.3" x2="489.7" y2="459.8" stroke="#000" stroke-width="1.0"/>
<text transform="translate(491.3,468.6) rotate(-45)" font-size="8.2" font-weight="bold" text-anchor="end" fill="#000" stroke="#000" stroke-width="0.15">12mo</text>
<line x1="503.2" y1="457.3" x2="503.2" y2="459.8" stroke="#000" stroke-width="1.0"/>
<text transform="translate(504.8,468.6) rotate(-45)" font-size="8.2" font-weight="bold" text-anchor="end" fill="#000" stroke="#000" stroke-width="0.15">AT</text>
<text x="428.5" y="352.3" font-size="9.0" font-weight="bold" text-anchor="middle" fill="#000" textLength="13.5" lengthAdjust="spacingAndGlyphs" stroke="#000" stroke-width="0.15">WT</text>
<text x="484.7" y="352.3" font-size="9.0" font-weight="bold" text-anchor="middle" fill="#000" textLength="40.6" lengthAdjust="spacingAndGlyphs" stroke="#000" stroke-width="0.15">E&#956;-TCL1</text>
<text transform="translate(357.2,404.0) rotate(-90)" font-size="8.9" font-weight="normal" text-anchor="middle" fill="#000" textLength="63.2" lengthAdjust="spacingAndGlyphs" stroke="#000" stroke-width="0.22">spleen AN PD1<tspan baseline-shift="super" font-size="62%">+</tspan></text>
<text transform="translate(368.6,404.9) rotate(-90)" font-size="9.1" font-weight="normal" text-anchor="middle" fill="#000" textLength="69.8" lengthAdjust="spacingAndGlyphs" stroke="#000" stroke-width="0.22">CD3<tspan baseline-shift="super" font-size="62%">+</tspan>CD8<tspan baseline-shift="super" font-size="62%">+</tspan>CD44<tspan baseline-shift="super" font-size="62%">+</tspan></text>
<path d="M414.4,361.59999999999997 L414.4,359.4 L442.9,359.4 L442.9,361.59999999999997" fill="none" stroke="#333" stroke-width="1.1"/>
<path d="M414.4,367.4 L414.4,365.2 L428.5,365.2 L428.5,367.4" fill="none" stroke="#333" stroke-width="1.1"/>
<circle cx="446.00" cy="360.10" r="1.45" fill="#000"/>
<circle cx="450.30" cy="360.10" r="1.45" fill="#000"/>
<text x="428.8" y="367.6" font-size="8.6" font-weight="normal" text-anchor="start" fill="#000" textLength="8.9" lengthAdjust="spacingAndGlyphs" stroke="#000" stroke-width="0.22">ns</text>
<path d="M459.4,357.5 L459.4,355.3 L506.6,355.3 L506.6,357.5" fill="none" stroke="#333" stroke-width="1.1"/>
<path d="M459.4,362.4 L459.4,360.2 L489.0,360.2 L489.0,362.4" fill="none" stroke="#333" stroke-width="1.1"/>
<path d="M459.4,367.8 L459.4,365.6 L474.4,365.6 L474.4,367.8" fill="none" stroke="#333" stroke-width="1.1"/>
<circle cx="509.20" cy="356.20" r="1.45" fill="#000"/>
<circle cx="513.50" cy="356.20" r="1.45" fill="#000"/>
<circle cx="491.60" cy="361.10" r="1.45" fill="#000"/>
<circle cx="495.90" cy="361.10" r="1.45" fill="#000"/>
<circle cx="477.00" cy="366.50" r="1.45" fill="#000"/>
<circle cx="413.80" cy="456.20" r="1.55" fill="#000"/>
<circle cx="416.50" cy="455.80" r="1.55" fill="#000"/>
<circle cx="419.50" cy="456.30" r="1.55" fill="#000"/>
<circle cx="422.50" cy="456.00" r="1.55" fill="#000"/>
<circle cx="425.00" cy="456.40" r="1.55" fill="#000"/>
<circle cx="429.00" cy="455.50" r="1.55" fill="#000"/>
<circle cx="431.50" cy="454.60" r="1.55" fill="#000"/>
<circle cx="434.00" cy="455.30" r="1.55" fill="#000"/>
<circle cx="436.50" cy="455.90" r="1.55" fill="#000"/>
<circle cx="431.80" cy="456.40" r="1.55" fill="#000"/>
<circle cx="443.80" cy="448.20" r="1.55" fill="#000"/>
<circle cx="446.30" cy="447.60" r="1.55" fill="#000"/>
<circle cx="448.80" cy="448.40" r="1.55" fill="#000"/>
<circle cx="445.00" cy="450.80" r="1.55" fill="#000"/>
<circle cx="447.60" cy="451.00" r="1.55" fill="#000"/>
<circle cx="444.50" cy="453.50" r="1.55" fill="#000"/>
<circle cx="447.50" cy="453.80" r="1.55" fill="#000"/>
<circle cx="457.50" cy="456.30" r="1.55" fill="#000"/>
<circle cx="460.50" cy="455.80" r="1.55" fill="#000"/>
<circle cx="463.50" cy="456.30" r="1.55" fill="#000"/>
<circle cx="466.00" cy="456.50" r="1.55" fill="#000"/>
<circle cx="473.00" cy="456.20" r="1.55" fill="#000"/>
<circle cx="475.60" cy="455.50" r="1.55" fill="#000"/>
<circle cx="478.00" cy="456.30" r="1.55" fill="#000"/>
<circle cx="475.30" cy="399.00" r="1.55" fill="#000"/>
<circle cx="489.60" cy="366.30" r="1.55" fill="#000"/>
<circle cx="489.60" cy="384.00" r="1.55" fill="#000"/>
<circle cx="489.60" cy="399.00" r="1.55" fill="#000"/>
<circle cx="486.00" cy="423.30" r="1.55" fill="#000"/>
<circle cx="489.60" cy="423.60" r="1.55" fill="#000"/>
<circle cx="489.60" cy="437.00" r="1.55" fill="#000"/>
<circle cx="489.00" cy="445.30" r="1.55" fill="#000"/>
<circle cx="487.20" cy="452.00" r="1.55" fill="#000"/>
<circle cx="491.60" cy="451.00" r="1.55" fill="#000"/>
<line x1="489.6" y1="393.5" x2="489.6" y2="404.6" stroke="#111" stroke-width="1.1"/>
<line x1="487.0" y1="393.5" x2="492.2" y2="393.5" stroke="#111" stroke-width="1.1"/>
<line x1="489.6" y1="412.5" x2="489.6" y2="446.0" stroke="#111" stroke-width="1.1"/>
<line x1="485.0" y1="423.6" x2="494.2" y2="423.6" stroke="#111" stroke-width="1.1"/>
<circle cx="506.00" cy="362.50" r="1.55" fill="#000"/>
<circle cx="501.50" cy="365.30" r="1.55" fill="#000"/>
<circle cx="503.80" cy="371.60" r="1.55" fill="#000"/>
<circle cx="503.80" cy="379.60" r="1.55" fill="#000"/>
<circle cx="501.50" cy="383.20" r="1.55" fill="#000"/>
<circle cx="506.00" cy="385.70" r="1.55" fill="#000"/>
<circle cx="503.00" cy="388.00" r="1.55" fill="#000"/>
<circle cx="506.50" cy="390.00" r="1.55" fill="#000"/>
<circle cx="501.00" cy="390.50" r="1.55" fill="#000"/>
<circle cx="504.00" cy="393.00" r="1.55" fill="#000"/>
<circle cx="505.00" cy="398.20" r="1.55" fill="#000"/>
<circle cx="500.50" cy="401.50" r="1.55" fill="#000"/>
<circle cx="504.00" cy="402.00" r="1.55" fill="#000"/>
<circle cx="507.50" cy="401.50" r="1.55" fill="#000"/>
<circle cx="504.00" cy="417.30" r="1.55" fill="#000"/>
<circle cx="504.00" cy="427.20" r="1.55" fill="#000"/>
<line x1="503.8" y1="379.6" x2="503.8" y2="398.5" stroke="#111" stroke-width="1.1"/>
<line x1="501.0" y1="379.6" x2="506.6" y2="379.6" stroke="#111" stroke-width="1.1"/>
<line x1="498.5" y1="390.3" x2="509.0" y2="390.3" stroke="#111" stroke-width="1.1"/>
</svg>
</body></html>
